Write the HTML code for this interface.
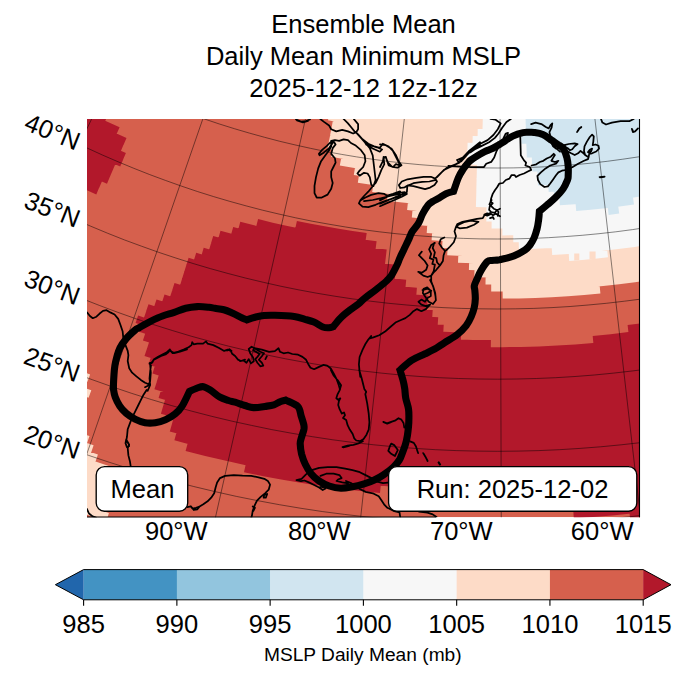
<!DOCTYPE html>
<html><head><meta charset="utf-8"><title>Ensemble Mean MSLP</title>
<style>html,body{margin:0;padding:0;background:#fff;overflow:hidden;font-family:"Liberation Sans",sans-serif}</style></head>
<body>
<svg width="688" height="674" viewBox="0 0 688 674" style="display:block">
<rect width="688" height="674" fill="#fff"/>
<defs><clipPath id="m"><rect x="87" y="119" width="553" height="398.2"/></clipPath></defs>
<g clip-path="url(#m)">
<rect x="87" y="119" width="553" height="398.2" fill="#d6604d"/>
<path d="M629.5 513.1 L650.4 510.7 L651.4 518.7 L630.4 521.1ZM573.3 510.4 L592.4 509 L611.4 507.4 L630.5 505.5 L649.5 503.3 L650.5 511.4 L631.4 513.6 L612.2 515.5 L593 517.1 L573.8 518.4ZM572.8 503 L591.8 501.7 L610.8 500.1 L629.7 498.2 L648.6 496 L649.6 504.1 L630.6 506.3 L611.5 508.2 L592.4 509.8 L573.3 511.1ZM517.4 497.8 L536.1 497.4 L554.7 496.6 L573.4 495.6 L592 494.3 L610.6 492.8 L629.2 490.9 L647.7 488.8 L648.7 496.8 L630 498.9 L611.3 500.8 L592.6 502.4 L573.9 503.7 L555.1 504.7 L536.3 505.4 L517.5 505.9ZM245.7 464.4 L264.8 468.3 L284 471.9 L303.3 475.1 L322.6 478.1 L341.9 480.7 L361.3 483 L380.8 485.1 L380 493.1 L360.4 491 L340.9 488.7 L321.4 486 L302 483.1 L282.6 479.8 L263.3 476.2 L244 472.3ZM435.3 489.1 L454.5 489.9 L473.8 490.4 L493.1 490.6 L512.3 490.5 L531.6 490.2 L550.8 489.5 L570.1 488.5 L589.3 487.2 L608.5 485.6 L627.7 483.7 L646.8 481.5 L647.8 489.5 L628.5 491.7 L609.2 493.6 L589.9 495.2 L570.6 496.5 L551.2 497.5 L531.8 498.2 L512.4 498.6 L493 498.7 L473.6 498.5 L454.3 497.9 L434.9 497.1ZM187.7 443.2 L207.1 448.1 L226.7 452.8 L246.3 457.1 L266 461.1 L285.8 464.7 L305.6 468.1 L325.4 471.1 L345.3 473.8 L365.3 476.1 L385.3 478.1 L405.3 479.8 L425.3 481.2 L445.4 482.2 L465.5 482.9 L485.6 483.3 L505.7 483.3 L525.7 483 L545.8 482.4 L565.9 481.4 L585.9 480.1 L606 478.5 L626 476.5 L645.9 474.2 L646.9 482.2 L626.8 484.5 L606.7 486.5 L586.5 488.1 L566.3 489.4 L546.1 490.4 L525.9 491 L505.7 491.3 L485.5 491.3 L465.3 490.9 L445.1 490.2 L424.9 489.2 L404.7 487.8 L384.5 486.1 L364.4 484.1 L344.3 481.7 L324.3 479 L304.3 476 L284.4 472.6 L264.5 469 L244.7 464.9 L224.9 460.6 L205.2 455.9 L185.6 450.9ZM176.5 432.6 L195.5 437.7 L214.6 442.5 L233.8 446.9 L253.1 451.1 L272.4 454.9 L291.8 458.4 L311.2 461.6 L330.7 464.5 L350.3 467 L369.8 469.3 L389.4 471.2 L409.1 472.8 L428.7 474.1 L448.4 475.1 L468.1 475.7 L487.8 476 L507.5 476 L527.2 475.7 L546.9 475 L566.6 474.1 L586.2 472.8 L605.8 471.2 L625.5 469.3 L645 467 L646 475 L626.3 477.2 L606.6 479.2 L586.8 480.8 L567 482.1 L547.2 483 L527.4 483.7 L507.6 484 L487.7 484 L467.9 483.7 L448.1 483.1 L428.3 482.1 L408.5 480.8 L388.7 479.2 L369 477.2 L349.3 475 L329.6 472.4 L310 469.5 L290.4 466.3 L270.9 462.8 L251.5 458.9 L232.1 454.7 L212.8 450.2 L193.5 445.4 L174.4 440.3ZM172 423.8 L191.4 429.1 L210.9 434.1 L230.5 438.7 L250.2 443 L269.9 447 L289.7 450.7 L309.6 454 L329.5 457 L349.5 459.6 L369.5 461.9 L389.5 463.9 L409.6 465.6 L429.7 466.9 L449.8 467.8 L469.9 468.5 L490.1 468.8 L510.2 468.7 L530.4 468.3 L550.5 467.6 L570.6 466.6 L590.7 465.2 L610.8 463.4 L630.8 461.4 L650.8 459 L651.8 466.9 L631.7 469.3 L611.5 471.4 L591.3 473.1 L571.1 474.5 L550.8 475.6 L530.6 476.3 L510.3 476.7 L490 476.7 L469.8 476.4 L449.5 475.8 L429.2 474.8 L409 473.5 L388.8 471.9 L368.6 469.9 L348.5 467.5 L328.4 464.9 L308.3 461.9 L288.3 458.5 L268.4 454.9 L248.5 450.8 L228.7 446.5 L209 441.8 L189.3 436.8 L169.8 431.5ZM173.9 416.8 L193.2 422.1 L212.6 427 L232.1 431.6 L251.7 435.9 L271.3 439.9 L291 443.5 L310.7 446.8 L330.5 449.8 L350.4 452.4 L370.3 454.7 L390.2 456.7 L410.1 458.3 L430.1 459.6 L450.1 460.6 L470.1 461.2 L490.1 461.5 L510.2 461.5 L530.2 461.1 L550.2 460.4 L570.2 459.3 L590.1 457.9 L610.1 456.2 L630 454.1 L649.9 451.8 L650.9 459.7 L630.9 462.1 L610.8 464.1 L590.8 465.9 L570.7 467.3 L550.5 468.3 L530.4 469 L510.2 469.4 L490.1 469.5 L469.9 469.2 L449.8 468.5 L429.7 467.6 L409.5 466.3 L389.5 464.6 L369.4 462.6 L349.4 460.3 L329.4 457.7 L309.5 454.7 L289.6 451.4 L269.8 447.7 L250 443.7 L230.3 439.4 L210.7 434.8 L191.2 429.8 L171.8 424.5ZM163.1 406.2 L182 411.6 L201 416.6 L220 421.4 L239.2 425.8 L258.4 429.9 L277.6 433.7 L296.9 437.2 L316.3 440.4 L335.7 443.2 L355.2 445.7 L374.7 447.9 L394.3 449.8 L413.8 451.3 L433.4 452.6 L453 453.5 L472.7 454 L492.3 454.3 L511.9 454.2 L531.6 453.8 L551.2 453.1 L570.8 452 L590.4 450.6 L609.9 448.9 L629.5 446.9 L648.9 444.6 L650 452.5 L630.3 454.8 L610.7 456.9 L591 458.6 L571.3 460 L551.5 461 L531.8 461.7 L512 462.1 L492.3 462.2 L472.5 462 L452.7 461.4 L433 460.5 L413.3 459.3 L393.6 457.7 L373.9 455.8 L354.3 453.6 L334.7 451.1 L315.1 448.2 L295.6 445 L276.1 441.5 L256.8 437.7 L237.4 433.6 L218.2 429.1 L199 424.3 L179.9 419.2 L160.9 413.8ZM165.2 399.3 L183.9 404.6 L202.8 409.6 L221.7 414.4 L240.7 418.8 L259.8 422.9 L279 426.6 L298.2 430.1 L317.4 433.2 L336.7 436 L356.1 438.5 L375.5 440.7 L394.9 442.6 L414.3 444.1 L433.8 445.3 L453.3 446.2 L472.8 446.8 L492.3 447 L511.8 447 L531.4 446.6 L550.9 445.9 L570.3 444.8 L589.8 443.4 L609.2 441.8 L628.7 439.7 L648 437.4 L649 445.3 L629.5 447.6 L610 449.7 L590.4 451.4 L570.8 452.7 L551.2 453.8 L531.6 454.5 L511.9 454.9 L492.3 455 L472.7 454.7 L453 454.2 L433.4 453.3 L413.8 452 L394.2 450.5 L374.6 448.6 L355.1 446.4 L335.6 443.9 L316.2 441.1 L296.8 437.9 L277.5 434.4 L258.2 430.6 L239 426.5 L219.9 422.1 L200.8 417.3 L181.8 412.3 L162.9 406.9ZM160.9 390.5 L179.8 396 L198.8 401.1 L217.8 406 L236.9 410.5 L256.1 414.7 L275.4 418.6 L294.7 422.2 L314.1 425.4 L333.6 428.3 L353 430.9 L372.6 433.2 L392.1 435.1 L411.7 436.7 L431.3 438 L451 438.9 L470.6 439.5 L490.3 439.8 L509.9 439.8 L529.6 439.4 L549.2 438.7 L568.8 437.7 L588.5 436.3 L608 434.6 L627.6 432.6 L647.1 430.3 L648.1 438.1 L628.5 440.5 L608.8 442.5 L589.1 444.2 L569.3 445.6 L549.6 446.6 L529.8 447.3 L510 447.7 L490.2 447.7 L470.4 447.5 L450.7 446.8 L430.9 445.9 L411.1 444.6 L391.4 443 L371.7 441 L352.1 438.8 L332.4 436.2 L312.9 433.2 L293.4 430 L273.9 426.4 L254.5 422.5 L235.2 418.2 L215.9 413.7 L196.7 408.8 L177.6 403.6 L158.6 398.1ZM156.8 381.7 L175 387.1 L193.3 392.2 L211.7 397.1 L230.2 401.6 L248.8 405.8 L267.4 409.7 L286.1 413.3 L304.9 416.6 L323.7 419.6 L342.5 422.3 L361.4 424.7 L380.3 426.7 L399.3 428.5 L418.2 430 L437.2 431.1 L456.3 431.9 L475.3 432.4 L494.3 432.7 L513.4 432.5 L532.4 432.1 L551.4 431.4 L570.4 430.4 L589.4 429 L608.4 427.4 L627.3 425.4 L646.2 423.1 L647.2 431 L628.2 433.3 L609.1 435.2 L590 436.9 L570.9 438.3 L551.8 439.3 L532.6 440 L513.5 440.5 L494.3 440.6 L475.1 440.3 L456 439.8 L436.8 439 L417.7 437.8 L398.6 436.4 L379.5 434.6 L360.5 432.5 L341.5 430.1 L322.5 427.4 L303.6 424.4 L284.7 421.1 L265.9 417.5 L247.1 413.5 L228.4 409.3 L209.8 404.7 L191.3 399.9 L172.8 394.7 L154.4 389.3ZM158.9 374.8 L177 380.2 L195.2 385.3 L213.5 390.1 L231.9 394.6 L250.3 398.8 L268.8 402.7 L287.4 406.2 L306.1 409.5 L324.7 412.5 L343.5 415.2 L362.2 417.5 L381 419.6 L399.9 421.3 L418.7 422.8 L437.6 423.9 L456.5 424.7 L475.4 425.3 L494.3 425.5 L513.3 425.4 L532.2 425 L551.1 424.2 L570 423.2 L588.8 421.9 L607.7 420.2 L626.5 418.3 L645.3 416 L646.3 423.8 L627.4 426.1 L608.4 428.1 L589.5 429.7 L570.5 431.1 L551.4 432.1 L532.4 432.8 L513.4 433.3 L494.3 433.4 L475.3 433.2 L456.2 432.6 L437.2 431.8 L418.2 430.7 L399.2 429.2 L380.2 427.4 L361.3 425.4 L342.4 423 L323.6 420.3 L304.7 417.3 L286 414 L267.3 410.4 L248.6 406.5 L230.1 402.3 L211.6 397.7 L193.2 392.9 L174.8 387.8 L156.5 382.4ZM154.8 366.1 L173 371.6 L191.4 376.8 L209.8 381.7 L228.2 386.3 L246.8 390.6 L265.4 394.6 L284.1 398.3 L302.8 401.7 L321.6 404.8 L340.5 407.5 L359.4 410 L378.3 412.1 L397.3 413.9 L416.3 415.4 L435.3 416.6 L454.3 417.5 L473.3 418 L492.4 418.3 L511.4 418.2 L530.5 417.8 L549.5 417.1 L568.5 416.1 L587.5 414.8 L606.5 413.1 L625.4 411.2 L644.4 408.9 L645.4 416.7 L626.3 419 L607.2 421 L588.1 422.6 L569 424 L549.9 425 L530.7 425.7 L511.5 426.1 L492.3 426.2 L473.2 425.9 L454 425.4 L434.8 424.5 L415.7 423.3 L396.6 421.8 L377.5 419.9 L358.4 417.8 L339.4 415.3 L320.4 412.6 L301.5 409.5 L282.6 406.1 L263.8 402.4 L245.1 398.3 L226.4 394 L207.8 389.4 L189.3 384.4 L170.8 379.2 L152.5 373.6ZM150.8 357.3 L168.7 362.8 L186.7 368.1 L204.7 373 L222.8 377.7 L241 382 L259.3 386 L277.6 389.8 L296 393.2 L314.4 396.4 L332.9 399.2 L351.4 401.8 L370 404 L388.6 405.9 L407.2 407.6 L425.9 408.9 L444.5 409.9 L463.2 410.6 L481.9 411 L500.6 411.1 L519.3 410.9 L538 410.4 L556.7 409.6 L575.4 408.5 L594 407.1 L612.6 405.3 L631.2 403.3 L649.8 401 L650.8 408.8 L632.1 411.1 L613.4 413.2 L594.7 414.9 L575.9 416.3 L557.1 417.5 L538.3 418.3 L519.5 418.8 L500.6 419 L481.8 418.9 L463 418.5 L444.2 417.8 L425.4 416.7 L406.6 415.4 L387.8 413.8 L369.1 411.8 L350.4 409.6 L331.8 407 L313.1 404.1 L294.6 401 L276.1 397.5 L257.6 393.7 L239.2 389.7 L220.9 385.3 L202.7 380.6 L184.5 375.6 L166.5 370.4 L148.5 364.8ZM147 348.6 L164.9 354.2 L183 359.6 L201.1 364.6 L219.3 369.4 L237.6 373.9 L255.9 378 L274.3 381.9 L292.8 385.4 L311.4 388.6 L330 391.6 L348.6 394.2 L367.3 396.5 L386 398.5 L404.7 400.2 L423.5 401.6 L442.3 402.7 L461.1 403.4 L479.9 403.9 L498.7 404 L517.5 403.8 L536.4 403.3 L555.2 402.5 L573.9 401.4 L592.7 400 L611.4 398.3 L630.2 396.2 L648.8 393.9 L649.9 401.7 L631.1 404 L612.2 406.1 L593.4 407.8 L574.5 409.3 L555.6 410.4 L536.6 411.2 L517.7 411.7 L498.7 411.9 L479.8 411.7 L460.8 411.3 L441.9 410.5 L423 409.4 L404.1 408 L385.2 406.3 L366.4 404.3 L347.6 402 L328.8 399.3 L310.1 396.4 L291.4 393.1 L272.8 389.6 L254.3 385.7 L235.8 381.5 L217.4 377 L199 372.2 L180.8 367.1 L162.6 361.7 L144.5 356ZM149.2 341.8 L167 347.4 L184.9 352.7 L202.9 357.8 L221 362.5 L239.2 366.9 L257.4 371 L275.8 374.9 L294.1 378.4 L312.5 381.6 L331 384.5 L349.5 387.1 L368.1 389.4 L386.7 391.4 L405.3 393.1 L424 394.5 L442.6 395.5 L461.3 396.3 L480 396.7 L498.7 396.9 L517.4 396.7 L536.1 396.2 L554.8 395.4 L573.5 394.3 L592.1 392.9 L610.7 391.2 L629.3 389.1 L647.9 386.8 L648.9 394.6 L630.2 396.9 L611.5 399 L592.8 400.7 L574 402.1 L555.2 403.2 L536.4 404 L517.6 404.5 L498.7 404.7 L479.9 404.6 L461.1 404.1 L442.3 403.4 L423.5 402.3 L404.7 400.9 L385.9 399.2 L367.2 397.2 L348.5 394.9 L329.9 392.3 L311.3 389.3 L292.7 386.1 L274.2 382.6 L255.8 378.7 L237.4 374.5 L219.1 370.1 L200.9 365.3 L182.8 360.3 L164.7 354.9 L146.8 349.2ZM145.4 333.1 L163.3 338.8 L181.3 344.3 L199.4 349.4 L217.6 354.3 L235.9 358.8 L254.2 363 L272.6 367 L291.1 370.6 L309.6 373.9 L328.2 376.9 L346.8 379.6 L365.4 381.9 L384.1 384 L402.9 385.7 L421.6 387.2 L440.4 388.3 L459.2 389.1 L478 389.6 L496.8 389.7 L515.7 389.6 L534.5 389.1 L553.3 388.4 L572.1 387.3 L590.8 385.9 L609.6 384.1 L628.3 382.1 L646.9 379.7 L648 387.5 L629.2 389.9 L610.3 391.9 L591.5 393.7 L572.6 395.1 L553.7 396.2 L534.7 397 L515.8 397.4 L496.8 397.6 L477.9 397.4 L459 396.9 L440 396.1 L421.1 395 L402.2 393.5 L383.4 391.8 L364.5 389.7 L345.7 387.3 L327 384.6 L308.3 381.6 L289.6 378.3 L271 374.6 L252.5 370.7 L234 366.4 L215.7 361.8 L197.3 357 L179.1 351.8 L161 346.3 L142.9 340.5ZM141.7 324.3 L159.1 330 L176.5 335.4 L194 340.5 L211.6 345.3 L229.3 349.9 L247.1 354.1 L264.9 358.1 L282.8 361.7 L300.7 365.1 L318.7 368.2 L336.7 371 L354.8 373.5 L372.9 375.6 L391.1 377.5 L409.3 379.1 L427.5 380.4 L445.7 381.4 L463.9 382.1 L482.2 382.5 L500.4 382.6 L518.7 382.4 L536.9 381.9 L555.1 381.1 L573.4 380 L591.6 378.7 L609.7 377 L627.9 375 L646 372.7 L647 380.4 L628.8 382.7 L610.5 384.7 L592.2 386.4 L573.9 387.8 L555.5 388.9 L537.2 389.7 L518.8 390.2 L500.4 390.4 L482.1 390.3 L463.7 389.9 L445.3 389.2 L427 388.2 L408.6 386.9 L390.3 385.3 L372 383.4 L353.8 381.2 L335.6 378.7 L317.4 375.9 L299.3 372.8 L281.2 369.4 L263.2 365.7 L245.3 361.7 L227.4 357.5 L209.6 352.9 L191.9 348 L174.3 342.9 L156.7 337.5 L139.2 331.7ZM138.1 315.6 L155.5 321.4 L173 326.9 L190.6 332.2 L208.3 337.1 L226.1 341.8 L243.9 346.1 L261.8 350.2 L279.8 353.9 L297.8 357.4 L315.9 360.5 L334 363.4 L352.2 366 L370.4 368.2 L388.7 370.2 L406.9 371.8 L425.3 373.2 L443.6 374.2 L461.9 375 L480.3 375.4 L498.6 375.5 L517 375.4 L535.3 374.9 L553.7 374.1 L572 373 L590.3 371.6 L608.6 369.9 L626.8 368 L645 365.7 L646.1 373.4 L627.7 375.7 L609.4 377.7 L590.9 379.4 L572.5 380.8 L554.1 381.9 L535.6 382.7 L517.1 383.2 L498.6 383.3 L480.1 383.2 L461.7 382.8 L443.2 382 L424.7 381 L406.3 379.6 L387.9 377.9 L369.5 376 L351.2 373.7 L332.9 371.1 L314.6 368.2 L296.4 365.1 L278.2 361.6 L260.2 357.8 L242.1 353.7 L224.2 349.3 L206.3 344.6 L188.5 339.7 L170.8 334.4 L153.1 328.8 L135.6 323ZM146.3 310.9 L163.6 316.6 L181 321.9 L198.5 327 L216.1 331.9 L233.8 336.4 L251.5 340.6 L269.3 344.5 L287.2 348.2 L305.1 351.5 L323.1 354.5 L341.2 357.3 L359.2 359.7 L377.3 361.9 L395.5 363.7 L413.7 365.2 L431.9 366.5 L450.1 367.4 L468.3 368 L486.5 368.4 L504.8 368.4 L523 368.1 L541.2 367.6 L559.5 366.7 L577.7 365.5 L595.8 364 L614 362.3 L632.1 360.2 L650.2 357.8 L651.3 365.5 L633.1 367.9 L614.8 370 L596.5 371.8 L578.2 373.3 L559.9 374.5 L541.5 375.4 L523.2 375.9 L504.8 376.2 L486.5 376.2 L468.1 375.8 L449.7 375.2 L431.4 374.3 L413.1 373 L394.8 371.5 L376.5 369.6 L358.3 367.4 L340 365 L321.9 362.2 L303.8 359.2 L285.7 355.8 L267.7 352.1 L249.8 348.2 L231.9 343.9 L214.1 339.4 L196.4 334.5 L178.8 329.4 L161.2 324 L143.8 318.3ZM148.5 304.2 L165.7 309.8 L183.1 315.2 L200.4 320.2 L217.9 325 L235.5 329.5 L253.1 333.7 L270.8 337.6 L288.6 341.2 L306.4 344.5 L324.2 347.5 L342.2 350.3 L360.1 352.7 L378.1 354.8 L396.1 356.6 L414.2 358.2 L432.3 359.4 L450.4 360.3 L468.5 361 L486.6 361.3 L504.7 361.3 L522.8 361.1 L541 360.5 L559.1 359.6 L577.1 358.4 L595.2 357 L613.2 355.2 L631.2 353.1 L649.2 350.8 L650.3 358.5 L632.2 360.9 L614.1 362.9 L595.9 364.7 L577.7 366.2 L559.5 367.4 L541.3 368.3 L523 368.8 L504.8 369.1 L486.5 369.1 L468.3 368.7 L450 368.1 L431.8 367.2 L413.6 365.9 L395.4 364.4 L377.3 362.5 L359.1 360.4 L341.1 358 L323 355.2 L305 352.2 L287.1 348.8 L269.2 345.2 L251.4 341.3 L233.6 337 L215.9 332.5 L198.3 327.7 L180.8 322.6 L163.4 317.2 L146 311.5ZM156.5 299.4 L173.5 304.8 L190.5 310 L207.6 314.9 L224.8 319.5 L242 323.8 L259.3 327.8 L276.7 331.6 L294.2 335.1 L311.7 338.3 L329.2 341.2 L346.8 343.8 L364.5 346.1 L382.1 348.1 L399.8 349.9 L417.6 351.3 L435.3 352.5 L453.1 353.4 L470.8 353.9 L488.6 354.2 L506.4 354.2 L524.2 353.9 L542 353.4 L559.7 352.5 L577.5 351.3 L595.2 349.9 L612.9 348.1 L630.6 346.1 L648.2 343.8 L649.3 351.5 L631.5 353.8 L613.7 355.9 L595.9 357.6 L578.1 359.1 L560.2 360.3 L542.3 361.1 L524.4 361.7 L506.5 362 L488.6 362 L470.7 361.7 L452.7 361.1 L434.9 360.3 L417 359.1 L399.1 357.6 L381.3 355.9 L363.5 353.8 L345.7 351.5 L328 348.8 L310.3 345.9 L292.7 342.7 L275.2 339.2 L257.6 335.4 L240.2 331.4 L222.8 327 L205.5 322.4 L188.3 317.4 L171.2 312.2 L154.1 306.8ZM164.5 294.5 L181.8 300 L199.1 305.1 L216.5 310 L234.1 314.6 L251.7 318.8 L269.3 322.8 L287 326.5 L304.8 329.9 L322.7 332.9 L340.5 335.7 L358.5 338.2 L376.4 340.4 L394.5 342.3 L412.5 343.9 L430.5 345.1 L448.6 346.1 L466.7 346.8 L484.8 347.1 L502.9 347.2 L521 346.9 L539.1 346.4 L557.2 345.6 L575.2 344.4 L593.3 342.9 L611.3 341.2 L629.3 339.1 L647.2 336.8 L648.3 344.5 L630.2 346.8 L612.1 348.9 L594 350.7 L575.8 352.1 L557.6 353.3 L539.4 354.2 L521.2 354.7 L502.9 355 L484.7 354.9 L466.5 354.5 L448.3 353.9 L430.1 352.9 L411.9 351.6 L393.7 350 L375.6 348.1 L357.5 345.9 L339.4 343.4 L321.4 340.6 L303.4 337.5 L285.5 334.1 L267.7 330.4 L249.9 326.4 L232.2 322.1 L214.5 317.5 L197 312.6 L179.5 307.4 L162.1 301.9ZM172.4 289.7 L189.6 295 L206.8 300 L224.2 304.7 L241.6 309.2 L259.1 313.3 L276.7 317.2 L294.3 320.7 L312 324 L329.7 326.9 L347.5 329.6 L365.3 332 L383.2 334 L401.1 335.8 L419 337.3 L437 338.4 L454.9 339.3 L472.9 339.9 L490.9 340.1 L490.8 347.9 L472.7 347.6 L454.6 347 L436.5 346.2 L418.5 345 L400.4 343.5 L382.4 341.7 L364.4 339.7 L346.4 337.3 L328.5 334.6 L310.6 331.6 L292.8 328.3 L275.1 324.7 L257.4 320.9 L239.8 316.7 L222.2 312.2 L204.7 307.5 L187.3 302.4 L170 297.1ZM592.7 335.9 L610.6 334.2 L628.4 332.1 L646.3 329.8 L647.3 337.5 L629.4 339.8 L611.4 341.9 L593.4 343.6ZM174.5 282.9 L190.9 288 L207.4 292.8 L223.9 297.4 L240.6 301.6 L257.3 305.6 L274 309.4 L290.8 312.8 L307.7 316 L324.6 319 L341.6 321.6 L358.6 324 L375.6 326.1 L392.7 327.9 L409.8 329.5 L426.9 330.7 L444 331.7 L461.2 332.5 L460.9 340.2 L443.6 339.5 L426.4 338.5 L409.1 337.2 L391.9 335.6 L374.7 333.8 L357.5 331.7 L340.4 329.3 L323.3 326.6 L306.3 323.7 L289.3 320.4 L272.4 317 L255.5 313.2 L238.7 309.2 L222 304.9 L205.3 300.3 L188.7 295.4 L172.2 290.3ZM627.6 325.1 L645.3 322.8 L646.4 330.5 L628.5 332.8ZM182.3 278 L199.3 283.1 L216.4 288 L233.5 292.6 L250.7 296.9 L268 300.9 L285.4 304.6 L302.8 308 L320.3 311.1 L337.8 313.9 L355.3 316.4 L372.9 318.7 L390.6 320.6 L408.3 322.3 L426 323.6 L443.7 324.7 L443.3 332.4 L425.4 331.3 L407.6 330 L389.8 328.3 L372 326.4 L354.3 324.1 L336.6 321.6 L319 318.7 L301.4 315.6 L283.8 312.1 L266.3 308.4 L248.9 304.4 L231.6 300.1 L214.3 295.5 L197.1 290.6 L180 285.4ZM184.4 271.3 L200.9 276.3 L217.5 281 L234.1 285.5 L250.8 289.6 L267.6 293.6 L284.5 297.2 L301.4 300.5 L318.3 303.6 L335.4 306.4 L352.4 308.9 L369.5 311.2 L386.6 313.1 L403.8 314.8 L421 316.2 L438.2 317.3 L437.7 325 L420.4 323.9 L403.1 322.5 L385.8 320.8 L368.6 318.9 L351.3 316.6 L334.2 314.1 L317 311.2 L299.9 308.1 L282.9 304.8 L265.9 301.1 L249 297.2 L232.2 293 L215.4 288.5 L198.7 283.7 L182.1 278.7ZM186.5 264.6 L202.5 269.4 L218.6 274 L234.8 278.4 L251 282.4 L267.3 286.3 L283.6 289.8 L300 293.1 L316.5 296.1 L333 298.9 L349.5 301.4 L366.1 303.7 L382.7 305.6 L399.4 307.3 L416 308.8 L432.7 310 L432.2 317.7 L415.4 316.5 L398.6 315 L381.9 313.3 L365.1 311.3 L348.4 309.1 L331.8 306.6 L315.1 303.8 L298.6 300.7 L282 297.4 L265.6 293.8 L249.2 289.9 L232.8 285.8 L216.5 281.5 L200.3 276.8 L184.2 271.9ZM188.6 257.8 L205.2 262.9 L222 267.7 L238.8 272.1 L255.6 276.3 L272.6 280.2 L289.6 283.9 L306.7 287.2 L323.8 290.3 L341 293 L358.2 295.5 L375.4 297.7 L392.7 299.6 L410 301.2 L427.4 302.6 L426.9 310.3 L409.4 308.9 L391.9 307.3 L374.5 305.4 L357.1 303.2 L339.8 300.7 L322.5 297.9 L305.2 294.8 L288.1 291.4 L270.9 287.8 L253.8 283.8 L236.8 279.6 L219.9 275.1 L203.1 270.3 L186.3 265.2ZM196.2 252.8 L212.3 257.6 L228.6 262.2 L244.9 266.4 L261.3 270.4 L277.7 274.2 L294.2 277.6 L310.8 280.8 L327.4 283.8 L344.1 286.4 L360.8 288.8 L377.5 290.9 L394.2 292.7 L411 294.3 L427.9 295.5 L427.3 303.2 L410.4 302 L393.5 300.4 L376.6 298.6 L359.7 296.4 L342.9 294 L326.1 291.4 L309.4 288.4 L292.7 285.2 L276.1 281.7 L259.5 278 L243 273.9 L226.6 269.6 L210.2 265.1 L193.9 260.2ZM203.7 247.8 L219.8 252.4 L235.9 256.9 L252.1 261 L268.3 264.9 L284.7 268.5 L301 271.8 L317.5 274.9 L334 277.7 L350.5 280.3 L367 282.5 L383.6 284.5 L400.3 286.2 L416.9 287.7 L416.3 295.4 L399.5 293.9 L382.8 292.2 L366.1 290.2 L349.4 287.9 L332.7 285.3 L316.1 282.5 L299.6 279.4 L283.1 276 L266.6 272.4 L250.2 268.5 L233.9 264.3 L217.7 259.9 L201.5 255.2ZM211.2 242.7 L227.1 247.2 L243.1 251.5 L259.2 255.5 L275.3 259.3 L291.5 262.8 L307.8 266 L324.1 268.9 L340.4 271.6 L356.8 274.1 L373.2 276.2 L389.7 278.1 L406.2 279.7 L405.5 287.4 L388.9 285.8 L372.3 283.9 L355.7 281.7 L339.2 279.3 L322.7 276.5 L306.3 273.6 L289.9 270.3 L273.6 266.8 L257.4 263 L241.2 259 L225.1 254.6 L209 250.1ZM213.2 235.9 L229.4 240.6 L245.8 244.9 L262.2 249 L278.7 252.8 L295.2 256.4 L311.8 259.6 L328.5 262.6 L345.2 265.3 L362 267.7 L378.7 269.8 L395.6 271.7 L394.8 279.3 L377.8 277.5 L360.9 275.3 L344 272.9 L327.2 270.2 L310.4 267.2 L293.7 263.9 L277 260.3 L260.4 256.5 L243.9 252.4 L227.4 248 L211 243.3ZM78.9 178.2 L89.1 182.8 L99.3 187.3 L96.3 194.4 L85.9 189.8 L75.6 185.2ZM220.5 230.8 L236.2 235.1 L252 239.3 L267.8 243.1 L283.7 246.7 L299.6 250.1 L315.6 253.2 L331.7 256 L347.8 258.6 L363.9 260.9 L380.1 262.9 L396.3 264.7 L395.5 272.4 L379.2 270.6 L362.9 268.5 L346.6 266.2 L330.4 263.6 L314.2 260.8 L298.1 257.6 L282 254.3 L266 250.6 L250.1 246.7 L234.2 242.6 L218.4 238.2ZM81.8 171.8 L91.9 176.4 L102.1 180.9 L99.1 187.9 L88.8 183.4 L78.6 178.8ZM233.2 227 L248.2 231.1 L263.3 234.8 L278.5 238.4 L293.7 241.7 L309 244.8 L324.3 247.6 L339.6 250.2 L355 252.6 L370.5 254.7 L385.9 256.5 L385 264.2 L369.5 262.3 L353.9 260.2 L338.4 257.8 L322.9 255.2 L307.5 252.3 L292.1 249.2 L276.8 245.9 L261.5 242.3 L246.3 238.5 L231.1 234.5ZM79.7 163.1 L94.8 170 L110 176.6 L107 183.7 L91.6 177 L76.5 170.1ZM240.3 221.7 L256.4 225.9 L272.5 229.8 L288.6 233.5 L304.9 236.8 L321.1 239.9 L337.5 242.7 L353.8 245.3 L370.3 247.6 L386.7 249.6 L385.8 257.2 L369.3 255.2 L352.7 252.9 L336.2 250.3 L319.8 247.5 L303.4 244.4 L287 241 L270.7 237.3 L254.5 233.4 L238.3 229.2ZM82.7 156.7 L97.6 163.6 L112.7 170.2 L109.7 177.2 L94.5 170.6 L79.4 163.7ZM258.1 219.1 L272.7 222.7 L287.4 226 L302.2 229.1 L317 232 L331.8 234.7 L346.7 237.1 L361.6 239.3 L376.6 241.3 L375.6 248.9 L360.6 247 L345.5 244.7 L330.5 242.3 L315.6 239.6 L300.7 236.7 L285.8 233.5 L271 230.2 L256.2 226.6ZM80.7 148.1 L92.2 153.4 L103.8 158.6 L115.5 163.7 L112.5 170.8 L100.7 165.7 L89 160.4 L77.4 155ZM296.9 220.9 L310.8 223.7 L324.7 226.3 L338.7 228.7 L352.6 230.9 L366.7 232.9 L365.6 240.6 L351.5 238.6 L337.4 236.3 L323.4 233.9 L309.3 231.3 L295.3 228.4ZM78.8 139.4 L93.5 146.3 L108.3 153 L123.2 159.4 L120.2 166.5 L105.2 160 L90.3 153.3 L75.5 146.3ZM81.9 133.1 L96.5 139.9 L111.1 146.5 L125.9 152.9 L122.9 160 L108 153.6 L93.2 146.9 L78.5 140ZM80.1 124.4 L94.5 131.3 L109.1 138 L123.7 144.3 L120.7 151.4 L105.9 145 L91.3 138.3 L76.7 131.4ZM78.5 115.8 L90.3 121.6 L102.3 127.2 L114.4 132.6 L126.5 137.9 L123.5 145 L111.2 139.7 L99.1 134.2 L87 128.5 L75 122.7ZM81.6 109.5 L94.2 115.6 L106.8 121.5 L119.6 127.3 L116.5 134.3 L103.6 128.5 L90.8 122.6 L78.1 116.4ZM94 107.8 L108.2 114.4 L105 121.4 L90.7 114.7Z" fill="#b2182b"/>
<path d="M78.8 511.2 L85.7 513.5 L83.1 521.4 L76.1 519.1ZM81.2 504 L95 508.6 L108.9 513 L106.5 521 L92.5 516.5 L78.5 511.9ZM83.6 496.9 L104.3 503.7 L101.8 511.6 L81 504.7ZM79.2 487.5 L92.8 492.1 L106.5 496.5 L104 504.4 L90.2 499.9 L76.5 495.3ZM81.6 480.4 L95.2 485 L108.8 489.4 L106.3 497.2 L92.6 492.8 L78.9 488.2ZM77.3 471 L90.8 475.6 L104.3 480.1 L101.8 487.9 L88.1 483.4 L74.6 478.8ZM79.7 464 L93.1 468.6 L106.6 473 L104.1 480.8 L90.5 476.3 L77 471.7ZM82.2 457 L95.5 461.6 L108.9 466 L106.4 473.7 L92.9 469.3 L79.5 464.7ZM78 447.7 L97.9 454.5 L95.3 462.2 L75.3 455.3ZM80.5 440.7 L93.6 445.3 L91 453 L77.8 448.4ZM83 433.8 L89.5 436.1 L86.8 443.7 L80.3 441.4ZM78.8 385.7 L91.3 390.3 L88.6 397.8 L76 393.1ZM77.7 369.8 L90.1 374.4 L87.3 381.9 L74.9 377.2ZM502.6 290.9 L518.8 290.7 L535 290.2 L551.2 289.5 L567.4 288.5 L583.5 287.3 L599.7 285.8 L600.4 293.4 L584.2 294.9 L567.9 296.2 L551.6 297.2 L535.3 297.9 L519 298.4 L502.7 298.6ZM491.2 283.8 L507.1 283.8 L523 283.5 L538.9 283 L554.8 282.2 L570.7 281.2 L586.5 279.9 L602.4 278.4 L618.2 276.7 L633.9 274.7 L649.7 272.4 L650.8 280 L635 282.3 L619.1 284.3 L603.2 286.1 L587.2 287.6 L571.2 288.9 L555.2 289.9 L539.2 290.7 L523.2 291.2 L507.2 291.5 L491.2 291.5ZM485.6 276.8 L502 276.8 L518.3 276.6 L534.7 276.2 L551 275.4 L567.4 274.4 L583.7 273.2 L600 271.6 L616.2 269.8 L632.4 267.8 L648.6 265.5 L649.8 273.1 L633.5 275.4 L617.1 277.5 L600.7 279.3 L584.3 280.8 L567.9 282.1 L551.4 283.1 L535 283.9 L518.5 284.3 L502 284.5 L485.5 284.5ZM474.5 269.6 L490.3 269.8 L506.1 269.8 L521.9 269.5 L537.6 269 L553.4 268.3 L569.2 267.3 L584.9 266 L600.6 264.5 L616.3 262.8 L632 260.8 L647.6 258.5 L648.7 266.1 L633 268.4 L617.2 270.4 L601.4 272.2 L585.6 273.7 L569.7 274.9 L553.8 276 L538 276.7 L522.1 277.2 L506.1 277.5 L490.2 277.5 L474.3 277.3ZM469.1 262.4 L485.3 262.7 L501.5 262.8 L517.7 262.6 L533.8 262.1 L550 261.4 L566.1 260.4 L582.3 259.2 L598.4 257.7 L614.5 255.9 L630.5 253.9 L646.5 251.6 L647.7 259.2 L631.5 261.5 L615.4 263.6 L599.2 265.3 L582.9 266.9 L566.7 268.1 L550.4 269.1 L534.1 269.8 L517.8 270.3 L501.5 270.5 L485.2 270.4 L468.9 270.1ZM458.3 255 L473.9 255.5 L489.6 255.8 L505.2 255.8 L520.9 255.5 L536.5 255 L552.1 254.3 L567.7 253.3 L583.3 252.1 L598.9 250.6 L614.5 248.8 L630 246.9 L645.5 244.6 L646.6 252.3 L631 254.5 L615.4 256.5 L599.7 258.2 L584 259.7 L568.3 261 L552.6 262 L536.8 262.7 L521 263.2 L505.3 263.5 L489.5 263.5 L473.7 263.2 L458 262.7ZM447.6 247.5 L463.2 248.2 L478.8 248.6 L494.4 248.8 L510 248.7 L525.6 248.4 L541.2 247.8 L556.8 247 L572.4 245.9 L587.9 244.6 L603.4 243 L618.9 241.2 L634.4 239.2 L649.9 236.9 L651.1 244.5 L635.5 246.8 L619.9 248.9 L604.3 250.7 L588.6 252.3 L573 253.6 L557.3 254.7 L541.6 255.5 L525.8 256.1 L510.1 256.4 L494.4 256.5 L478.6 256.3 L462.9 255.9 L447.2 255.2ZM442.5 240.2 L458.4 241 L474.3 241.5 L490.2 241.7 L506.1 241.7 L522.1 241.5 L538 240.9 L553.9 240.1 L569.7 239.1 L585.6 237.8 L601.4 236.2 L617.2 234.4 L633 232.3 L648.8 229.9 L650 237.6 L634.1 239.9 L618.2 242 L602.3 243.9 L586.3 245.4 L570.3 246.8 L554.3 247.8 L538.3 248.6 L522.3 249.2 L506.2 249.4 L490.2 249.4 L474.1 249.2 L458.1 248.7 L442.1 247.9ZM432.1 232.5 L447.5 233.5 L463 234.1 L478.4 234.6 L493.8 234.7 L509.3 234.7 L524.7 234.4 L540.2 233.8 L555.6 233 L571 232 L586.4 230.7 L601.8 229.1 L617.1 227.3 L632.4 225.3 L647.7 223 L648.9 230.6 L633.5 232.9 L618 235 L602.6 236.8 L587.1 238.3 L571.6 239.6 L556.1 240.7 L540.5 241.5 L524.9 242.1 L509.4 242.4 L493.8 242.5 L478.3 242.3 L462.7 241.8 L447.1 241.2 L431.6 240.2ZM427.2 225.2 L442.9 226.2 L458.6 227 L474.3 227.5 L490 227.7 L505.8 227.7 L521.5 227.4 L537.2 226.9 L552.9 226.1 L568.6 225.1 L584.2 223.8 L599.9 222.3 L615.5 220.5 L631 218.4 L646.6 216.1 L647.8 223.7 L632.1 226 L616.4 228.1 L600.7 229.9 L584.9 231.5 L569.1 232.8 L553.3 233.8 L537.5 234.6 L521.7 235.1 L505.8 235.4 L490 235.4 L474.1 235.2 L458.3 234.7 L442.5 233.9 L426.7 232.9ZM417.1 217.3 L432.4 218.5 L447.6 219.4 L462.9 220.1 L478.1 220.5 L493.4 220.7 L508.7 220.7 L523.9 220.4 L539.2 219.8 L554.4 219 L569.7 218 L584.9 216.7 L600.1 215.2 L615.3 213.4 L630.4 211.4 L645.5 209.2 L646.7 216.8 L631.5 219 L616.2 221.1 L600.9 222.8 L585.6 224.4 L570.3 225.7 L554.9 226.7 L539.5 227.5 L524.1 228.1 L508.8 228.4 L493.4 228.4 L478 228.2 L462.6 227.8 L447.2 227.1 L431.8 226.2 L416.5 225ZM412.5 209.9 L428.3 211.2 L444.1 212.2 L459.9 213 L475.8 213.5 L491.7 213.7 L507.5 213.7 L523.4 213.4 L539.2 212.8 L555.1 212 L570.9 210.9 L586.7 209.5 L602.5 207.9 L618.2 206 L634 203.8 L649.6 201.4 L650.9 209 L635.1 211.4 L619.2 213.6 L603.3 215.5 L587.4 217.2 L571.5 218.5 L555.5 219.6 L539.6 220.5 L523.6 221.1 L507.6 221.4 L491.6 221.4 L475.6 221.2 L459.6 220.7 L443.7 219.9 L427.7 218.9 L411.8 217.6ZM407.9 202.4 L422.9 203.7 L438 204.8 L453 205.6 L468.1 206.2 L483.2 206.6 L498.3 206.7 L513.4 206.6 L528.4 206.2 L543.5 205.6 L558.6 204.7 L573.6 203.6 L588.7 202.3 L603.7 200.7 L618.6 198.8 L633.6 196.8 L648.5 194.5 L649.7 202.1 L634.7 204.4 L619.6 206.5 L604.5 208.3 L589.4 209.9 L574.3 211.3 L559.1 212.4 L543.9 213.3 L528.7 213.9 L513.5 214.3 L498.3 214.4 L483.1 214.3 L467.9 213.9 L452.7 213.3 L437.5 212.5 L422.3 211.4 L407.1 210.1ZM387.8 193.2 L403.1 194.9 L418.3 196.3 L433.6 197.5 L448.9 198.4 L464.2 199.1 L479.5 199.5 L494.8 199.7 L510.1 199.6 L525.5 199.2 L540.8 198.7 L556.1 197.8 L571.3 196.7 L586.6 195.4 L601.8 193.8 L617 192 L632.2 189.9 L647.4 187.5 L648.6 195.1 L633.3 197.5 L618 199.6 L602.7 201.5 L587.3 203.1 L572 204.4 L556.5 205.5 L541.1 206.4 L525.7 207 L510.2 207.3 L494.8 207.4 L479.3 207.2 L463.9 206.8 L448.5 206.1 L433.1 205.2 L417.6 204 L402.3 202.5 L386.9 200.8ZM373.3 184.3 L388.4 186.2 L403.5 187.8 L418.6 189.3 L433.8 190.4 L449 191.4 L464.2 192 L479.4 192.5 L494.7 192.6 L509.9 192.6 L525.1 192.2 L540.3 191.6 L555.5 190.8 L570.7 189.7 L585.9 188.4 L601 186.8 L616.1 185 L631.2 182.9 L646.2 180.6 L647.5 188.2 L632.3 190.6 L617.1 192.7 L601.9 194.5 L586.6 196.1 L571.3 197.4 L556 198.5 L540.7 199.4 L525.3 199.9 L510 200.3 L494.6 200.4 L479.3 200.2 L463.9 199.8 L448.6 199.1 L433.3 198.1 L418 197 L402.7 195.5 L387.5 193.8 L372.2 191.9ZM359 175.1 L373.9 177.2 L388.9 179.2 L404 180.8 L419 182.2 L434.1 183.4 L449.2 184.3 L464.3 185 L479.4 185.4 L494.5 185.6 L509.7 185.5 L524.8 185.2 L539.9 184.6 L555 183.8 L570.1 182.7 L585.1 181.4 L600.2 179.8 L615.2 178 L630.2 176 L645.1 173.7 L646.3 181.3 L631.3 183.6 L616.2 185.7 L601 187.5 L585.9 189.1 L570.7 190.4 L555.5 191.5 L540.2 192.3 L525 192.9 L509.8 193.2 L494.5 193.3 L479.3 193.2 L464 192.7 L448.8 192 L433.6 191.1 L418.4 189.9 L403.2 188.5 L388 186.8 L372.9 184.9 L357.8 182.7ZM355 167.4 L369.6 169.5 L384.2 171.5 L398.9 173.2 L413.6 174.7 L428.3 175.9 L443 176.9 L457.8 177.7 L472.5 178.2 L487.3 178.5 L502.1 178.6 L516.8 178.4 L531.6 177.9 L546.3 177.3 L561.1 176.3 L575.8 175.2 L590.5 173.8 L605.2 172.2 L619.8 170.3 L634.4 168.2 L649 165.9 L650.3 173.5 L635.6 175.9 L620.8 178 L606.1 179.9 L591.3 181.5 L576.5 182.9 L561.6 184.1 L546.7 185 L531.9 185.7 L517 186.1 L502.1 186.3 L487.2 186.2 L472.3 186 L457.4 185.4 L442.6 184.7 L427.7 183.6 L412.9 182.4 L398.1 180.9 L383.3 179.2 L368.5 177.2 L353.8 175ZM341.2 157.9 L355.6 160.3 L370.1 162.5 L384.7 164.5 L399.3 166.2 L413.9 167.6 L428.5 168.9 L443.1 169.9 L457.8 170.7 L472.4 171.2 L487.1 171.5 L501.8 171.5 L516.5 171.3 L531.1 170.9 L545.8 170.2 L560.4 169.3 L575.1 168.2 L589.7 166.8 L604.3 165.2 L618.8 163.3 L633.3 161.3 L647.8 158.9 L649.1 166.6 L634.5 168.9 L619.9 171 L605.2 172.9 L590.5 174.5 L575.7 175.9 L561 177.1 L546.2 178 L531.4 178.6 L516.6 179.1 L501.8 179.3 L487 179.2 L472.2 178.9 L457.4 178.4 L442.7 177.6 L427.9 176.6 L413.1 175.4 L398.4 173.9 L383.7 172.1 L369.1 170.2 L354.4 168 L339.8 165.5ZM332.5 149.2 L347.3 151.8 L362.2 154.2 L377 156.4 L392 158.2 L406.9 159.9 L421.9 161.3 L436.9 162.4 L451.9 163.3 L466.9 164 L481.9 164.3 L497 164.5 L512 164.4 L527 164 L542.1 163.4 L557.1 162.5 L572.1 161.4 L587.1 160 L602 158.4 L616.9 156.5 L631.8 154.4 L646.7 152 L647.9 159.6 L633 162 L618 164.2 L602.9 166.1 L587.8 167.7 L572.7 169.1 L557.6 170.2 L542.5 171.1 L527.3 171.7 L512.1 172.1 L497 172.2 L481.8 172.1 L466.6 171.7 L451.5 171.1 L436.4 170.2 L421.2 169 L406.1 167.6 L391.1 165.9 L376 164 L361 161.9 L346 159.4 L331.1 156.8ZM328.9 141.3 L343.2 143.9 L357.4 146.3 L371.7 148.5 L386.1 150.4 L400.4 152.1 L414.8 153.6 L429.2 154.8 L443.7 155.8 L458.1 156.6 L472.6 157.1 L487 157.4 L501.5 157.4 L516 157.2 L530.4 156.8 L544.9 156.2 L559.3 155.3 L573.7 154.2 L588.1 152.8 L602.5 151.2 L616.9 149.4 L631.2 147.3 L645.5 145 L646.8 152.7 L632.4 155 L617.9 157.1 L603.4 158.9 L588.9 160.5 L574.4 161.9 L559.9 163 L545.3 163.9 L530.7 164.6 L516.1 165 L501.5 165.2 L486.9 165.1 L472.4 164.8 L457.8 164.3 L443.2 163.5 L428.6 162.5 L414.1 161.3 L399.6 159.8 L385.1 158.1 L370.6 156.2 L356.2 154 L341.8 151.6 L327.5 148.9ZM330.3 134.4 L344.6 137 L359 139.4 L373.4 141.6 L387.8 143.5 L402.3 145.2 L416.8 146.7 L431.3 147.9 L445.9 148.9 L460.4 149.6 L475 150.1 L489.6 150.3 L504.2 150.3 L518.7 150.1 L533.3 149.6 L547.9 148.9 L562.4 148 L576.9 146.8 L591.4 145.3 L605.9 143.7 L620.4 141.8 L634.8 139.6 L649.2 137.2 L650.5 144.9 L636 147.3 L621.5 149.4 L606.9 151.4 L592.3 153.1 L577.6 154.5 L563 155.7 L548.3 156.7 L533.6 157.4 L518.9 157.9 L504.2 158.1 L489.5 158.1 L474.8 157.8 L460.1 157.3 L445.4 156.6 L430.8 155.6 L416.1 154.4 L401.5 152.9 L386.9 151.2 L372.3 149.3 L357.8 147.1 L343.3 144.7 L328.8 142ZM331.6 127.4 L345.8 130.1 L360.1 132.4 L374.4 134.6 L388.7 136.5 L403.1 138.2 L417.5 139.6 L431.9 140.8 L446.3 141.8 L460.7 142.5 L475.2 143 L489.7 143.3 L504.1 143.3 L518.6 143 L533 142.6 L547.5 141.9 L561.9 140.9 L576.3 139.7 L590.7 138.3 L605.1 136.7 L619.4 134.8 L633.7 132.6 L648 130.3 L649.3 137.9 L634.9 140.3 L620.5 142.5 L606 144.4 L591.5 146 L577 147.5 L562.5 148.7 L547.9 149.6 L533.3 150.3 L518.8 150.8 L504.2 151 L489.6 151 L475 150.8 L460.4 150.3 L445.8 149.5 L431.3 148.6 L416.8 147.4 L402.2 145.9 L387.8 144.2 L373.3 142.3 L358.9 140.1 L344.5 137.7 L330.1 135.1ZM332.9 120.5 L347.1 123.1 L361.2 125.5 L375.4 127.6 L389.6 129.5 L403.8 131.2 L418.1 132.6 L432.4 133.8 L446.7 134.7 L461 135.5 L475.4 135.9 L489.7 136.2 L504.1 136.2 L518.4 136 L532.7 135.5 L547.1 134.8 L561.4 133.9 L575.7 132.7 L589.9 131.3 L604.2 129.6 L618.4 127.8 L632.6 125.6 L646.7 123.3 L648.1 131 L633.8 133.3 L619.5 135.5 L605.1 137.4 L590.8 139 L576.4 140.4 L561.9 141.6 L547.5 142.6 L533 143.3 L518.6 143.7 L504.1 144 L489.6 144 L475.2 143.7 L460.7 143.2 L446.3 142.5 L431.8 141.5 L417.4 140.3 L403 138.9 L388.6 137.2 L374.3 135.3 L360 133.1 L345.7 130.7 L331.5 128.1ZM329.6 112.6 L343.8 115.3 L358 117.8 L372.3 120 L386.6 122 L400.9 123.7 L415.3 125.2 L429.7 126.5 L444.1 127.5 L458.5 128.2 L472.9 128.8 L487.4 129.1 L501.8 129.1 L516.3 128.9 L530.7 128.5 L545.1 127.8 L559.5 126.9 L573.9 125.7 L588.3 124.3 L602.7 122.7 L617 120.8 L631.3 118.7 L645.5 116.3 L646.9 124 L632.5 126.4 L618.1 128.5 L603.6 130.4 L589.1 132.1 L574.6 133.5 L560.1 134.7 L545.6 135.6 L531 136.3 L516.4 136.7 L501.9 136.9 L487.3 136.9 L472.7 136.6 L458.1 136 L443.6 135.2 L429.1 134.2 L414.5 132.9 L400 131.4 L385.6 129.7 L371.1 127.7 L356.7 125.4 L342.4 123 L328 120.2ZM340.3 107.4 L354.2 109.9 L368.1 112.2 L382.1 114.2 L396.1 116 L410.1 117.6 L424.2 118.9 L438.2 120 L452.3 120.8 L466.4 121.5 L480.5 121.9 L494.6 122 L508.7 122 L522.8 121.7 L536.9 121.1 L551 120.4 L565.1 119.4 L579.1 118.1 L593.2 116.7 L607.2 115 L621.2 113 L635.1 110.9 L649 108.5 L650.4 116.2 L636.4 118.6 L622.3 120.7 L608.2 122.7 L594 124.4 L579.9 125.9 L565.7 127.1 L551.5 128.1 L537.3 128.9 L523.1 129.4 L508.8 129.8 L494.6 129.8 L480.4 129.7 L466.1 129.3 L451.9 128.6 L437.7 127.8 L423.5 126.6 L409.3 125.3 L395.2 123.7 L381.1 121.9 L367 119.9 L352.9 117.6 L338.9 115.1ZM383.7 107.2 L397.8 109 L411.9 110.6 L426.1 111.9 L440.2 113 L454.4 113.8 L468.6 114.4 L482.8 114.8 L497 114.9 L511.2 114.8 L525.4 114.5 L539.6 113.9 L553.8 113.1 L568 112 L582.1 110.7 L596.2 109.2 L610.3 107.4 L611.4 115.1 L597.1 116.9 L582.9 118.5 L568.6 119.8 L554.3 120.8 L540 121.7 L525.7 122.3 L511.3 122.6 L497 122.7 L482.7 122.6 L468.3 122.2 L454 121.6 L439.7 120.8 L425.4 119.7 L411.1 118.4 L396.9 116.8 L382.7 115ZM464.2 107.1 L477.3 107.6 L490.4 107.8 L503.6 107.8 L516.7 107.6 L529.9 107.2 L530.2 115 L516.9 115.4 L503.6 115.6 L490.4 115.6 L477.1 115.4 L463.8 115Z" fill="#fddbc7"/>
<path d="M568.7 253.2 L581.5 252.2 L594.3 251 L607.2 249.7 L608 257.3 L595.1 258.7 L582.2 259.9 L569.2 260.9ZM551.7 247.3 L568.2 246.2 L584.6 244.9 L600.9 243.3 L617.3 241.4 L633.6 239.3 L649.9 236.9 L651.1 244.5 L634.7 246.9 L618.2 249.1 L601.7 251 L585.2 252.6 L568.7 253.9 L552.2 255ZM518.7 241.5 L535 241 L551.4 240.3 L567.7 239.2 L583.9 237.9 L600.2 236.3 L616.4 234.5 L632.6 232.4 L648.8 229.9 L650 237.6 L633.7 240 L617.4 242.1 L601 244 L584.6 245.6 L568.2 246.9 L551.8 248 L535.3 248.7 L518.9 249.2ZM513.2 234.6 L528.2 234.3 L543.2 233.7 L558.2 232.9 L573.1 231.8 L588.1 230.5 L603 229 L617.9 227.2 L632.8 225.2 L647.7 223 L648.9 230.6 L633.9 232.9 L618.9 234.9 L603.9 236.6 L588.8 238.2 L573.7 239.5 L558.6 240.5 L543.5 241.4 L528.4 242 L513.3 242.3ZM502.3 227.7 L518.4 227.5 L534.5 227 L550.6 226.3 L566.6 225.2 L582.7 224 L598.7 222.4 L614.7 220.6 L630.7 218.5 L646.6 216.1 L647.8 223.7 L631.7 226.1 L615.6 228.2 L599.5 230.1 L583.4 231.6 L567.2 232.9 L551 234 L534.8 234.7 L518.6 235.2 L502.3 235.4ZM491.6 220.7 L507.1 220.7 L522.5 220.4 L538 219.9 L553.4 219.1 L568.8 218.1 L584.2 216.8 L599.6 215.2 L614.9 213.5 L630.2 211.4 L645.5 209.2 L646.7 216.8 L631.3 219.1 L615.9 221.1 L600.4 222.9 L584.9 224.4 L569.4 225.7 L553.8 226.8 L538.3 227.6 L522.7 228.1 L507.1 228.4 L491.6 228.4ZM486.4 213.6 L501.3 213.7 L516.2 213.5 L531.1 213.1 L546 212.5 L560.8 211.6 L575.7 210.5 L590.5 209.1 L605.4 207.5 L620.1 205.7 L634.9 203.7 L649.6 201.4 L650.9 209 L636 211.3 L621.1 213.4 L606.2 215.2 L591.3 216.8 L576.3 218.2 L561.4 219.3 L546.4 220.2 L531.3 220.8 L516.3 221.2 L501.3 221.4 L486.3 221.4ZM486.5 206.6 L501.2 206.7 L516 206.5 L530.8 206.1 L545.6 205.5 L560.4 204.6 L575.1 203.5 L589.8 202.1 L604.6 200.6 L619.2 198.8 L633.9 196.7 L648.5 194.5 L649.7 202.1 L635 204.4 L620.2 206.4 L605.4 208.2 L590.6 209.8 L575.8 211.2 L560.9 212.3 L546 213.2 L531.1 213.8 L516.2 214.2 L501.3 214.4 L486.4 214.3ZM476.1 199.4 L491.7 199.6 L507.4 199.6 L523 199.3 L538.6 198.8 L554.2 197.9 L569.8 196.9 L585.4 195.5 L600.9 193.9 L616.4 192 L631.9 189.9 L647.4 187.5 L648.6 195.1 L633 197.6 L617.4 199.7 L601.8 201.6 L586.1 203.2 L570.4 204.5 L554.7 205.6 L539 206.5 L523.2 207 L507.5 207.3 L491.7 207.4 L475.9 207.1ZM476.3 192.4 L491.8 192.6 L507.3 192.6 L522.8 192.3 L538.3 191.7 L553.8 190.9 L569.3 189.8 L584.7 188.5 L600.1 186.9 L615.5 185.1 L630.9 183 L646.2 180.6 L647.5 188.2 L632 190.6 L616.5 192.7 L601 194.6 L585.4 196.2 L569.9 197.5 L554.3 198.6 L538.6 199.4 L523 200 L507.4 200.3 L491.7 200.3 L476.1 200.1ZM476.4 185.4 L491.8 185.6 L507.2 185.6 L522.6 185.3 L538 184.7 L553.4 183.9 L568.7 182.8 L584.1 181.5 L599.4 179.9 L614.6 178.1 L629.9 176 L645.1 173.7 L646.3 181.3 L631 183.6 L615.6 185.8 L600.2 187.6 L584.8 189.2 L569.3 190.5 L553.8 191.6 L538.3 192.4 L522.8 193 L507.3 193.3 L491.8 193.3 L476.3 193.1ZM476.6 178.3 L491 178.5 L505.5 178.5 L519.9 178.3 L534.3 177.8 L548.7 177.1 L563.1 176.2 L577.5 175.1 L591.8 173.7 L606.2 172.1 L620.5 170.2 L634.8 168.2 L649 165.9 L650.3 173.5 L635.9 175.8 L621.5 177.9 L607.1 179.7 L592.6 181.4 L578.2 182.8 L563.7 183.9 L549.1 184.8 L534.6 185.6 L520.1 186 L505.5 186.3 L491 186.3 L476.4 186.1ZM476.8 171.3 L491.1 171.5 L505.4 171.5 L519.7 171.3 L534 170.8 L548.3 170.1 L562.6 169.2 L576.9 168 L591.1 166.7 L605.3 165.1 L619.5 163.3 L633.7 161.2 L647.8 158.9 L649.1 166.6 L634.9 168.9 L620.6 170.9 L606.3 172.8 L591.9 174.4 L577.5 175.7 L563.1 176.9 L548.7 177.8 L534.3 178.5 L519.9 179 L505.5 179.2 L491 179.2 L476.6 179ZM476.9 164.2 L491.1 164.5 L505.3 164.4 L519.5 164.2 L533.7 163.7 L547.9 163.1 L562.1 162.2 L576.2 161 L590.4 159.7 L604.5 158.1 L618.6 156.3 L632.6 154.2 L646.7 152 L647.9 159.6 L633.8 161.9 L619.6 163.9 L605.4 165.8 L591.2 167.4 L576.9 168.7 L562.6 169.9 L548.3 170.8 L534 171.5 L519.7 172 L505.4 172.2 L491.1 172.2 L476.8 172ZM472.1 157.1 L486.6 157.4 L501.1 157.4 L515.6 157.2 L530.1 156.8 L544.6 156.2 L559.1 155.3 L573.6 154.2 L588 152.8 L602.4 151.2 L616.8 149.4 L631.2 147.3 L645.5 145 L646.8 152.7 L632.3 155 L617.8 157.1 L603.3 158.9 L588.8 160.5 L574.2 161.9 L559.6 163 L545 163.9 L530.4 164.6 L515.8 165 L501.2 165.2 L486.5 165.1 L471.9 164.8ZM467.4 149.9 L481.4 150.2 L495.5 150.4 L509.5 150.3 L523.5 150 L537.6 149.5 L551.6 148.7 L565.6 147.7 L579.6 146.5 L593.6 145.1 L607.5 143.5 L621.4 141.6 L635.3 139.5 L649.2 137.2 L650.5 144.9 L636.5 147.2 L622.5 149.3 L608.5 151.2 L594.4 152.8 L580.3 154.3 L566.2 155.5 L552.1 156.4 L537.9 157.2 L523.8 157.7 L509.6 158 L495.5 158.1 L481.3 158 L467.1 157.6ZM467.6 142.8 L481.6 143.1 L495.5 143.3 L509.4 143.2 L523.3 142.9 L537.3 142.4 L551.2 141.6 L565.1 140.7 L578.9 139.5 L592.8 138.1 L606.6 136.5 L620.4 134.6 L634.2 132.6 L648 130.3 L649.3 137.9 L635.4 140.2 L621.5 142.3 L607.6 144.2 L593.6 145.8 L579.7 147.2 L565.7 148.4 L551.6 149.4 L537.6 150.1 L523.6 150.7 L509.5 151 L495.5 151.1 L481.4 150.9 L467.4 150.5ZM472.7 135.9 L487.3 136.2 L501.8 136.2 L516.4 136 L531 135.6 L545.5 134.9 L560 134 L574.6 132.8 L589.1 131.4 L603.5 129.7 L618 127.8 L632.4 125.7 L646.7 123.3 L648.1 131 L633.6 133.4 L619 135.5 L604.5 137.4 L589.9 139.1 L575.3 140.5 L560.6 141.7 L545.9 142.7 L531.3 143.3 L516.6 143.8 L501.9 144 L487.2 143.9 L472.5 143.6ZM477.7 128.9 L491.8 129.1 L505.8 129.1 L519.9 128.8 L533.9 128.4 L547.9 127.7 L561.9 126.7 L575.9 125.5 L589.9 124.2 L603.9 122.5 L617.8 120.7 L631.7 118.6 L645.5 116.3 L646.9 124 L632.9 126.3 L618.9 128.4 L604.8 130.3 L590.7 131.9 L576.6 133.3 L562.5 134.5 L548.4 135.4 L534.2 136.1 L520.1 136.6 L505.9 136.9 L491.7 136.9 L477.6 136.7ZM482.7 121.9 L496.6 122 L510.5 121.9 L524.5 121.6 L538.4 121.1 L552.3 120.3 L566.2 119.3 L580 118 L593.9 116.6 L607.7 114.9 L621.5 113 L635.3 110.8 L649 108.5 L650.4 116.2 L636.5 118.5 L622.6 120.7 L608.7 122.6 L594.8 124.3 L580.8 125.8 L566.8 127 L552.8 128.1 L538.7 128.8 L524.7 129.4 L510.7 129.7 L496.6 129.8 L482.5 129.7ZM482.8 114.8 L497 114.9 L511.2 114.8 L525.4 114.5 L539.6 113.9 L553.8 113.1 L568 112 L582.1 110.7 L596.2 109.2 L610.3 107.4 L611.4 115.1 L597.1 116.9 L582.9 118.5 L568.6 119.8 L554.3 120.8 L540 121.7 L525.7 122.3 L511.3 122.6 L497 122.7 L482.7 122.6ZM482.9 107.7 L494.7 107.8 L506.4 107.8 L518.1 107.6 L529.9 107.2 L530.2 115 L518.3 115.4 L506.5 115.6 L494.6 115.6 L482.8 115.5Z" fill="#f7f7f7"/>
<path d="M607.7 207.3 L618.2 206 L619.2 213.6 L608.6 214.9ZM575.6 203.4 L590 202.1 L604.3 200.6 L618.6 198.8 L632.9 196.9 L634 204.5 L619.6 206.5 L605.2 208.3 L590.7 209.8 L576.2 211.1ZM559.4 197.6 L574.1 196.5 L588.8 195.2 L603.5 193.6 L618.2 191.8 L632.8 189.8 L647.4 187.5 L648.6 195.1 L633.9 197.4 L619.2 199.5 L604.4 201.3 L589.6 202.9 L574.8 204.2 L559.9 205.3ZM553.8 190.9 L569.3 189.8 L584.7 188.5 L600.1 186.9 L615.5 185.1 L630.9 183 L646.2 180.6 L647.5 188.2 L632 190.6 L616.5 192.7 L601 194.6 L585.4 196.2 L569.9 197.5 L554.3 198.6ZM548.2 184.2 L562.1 183.3 L576 182.2 L589.9 180.9 L603.7 179.4 L617.6 177.7 L631.3 175.8 L645.1 173.7 L646.3 181.3 L632.5 183.4 L618.6 185.4 L604.6 187.1 L590.7 188.6 L576.7 189.9 L562.7 191 L548.7 191.9ZM537.7 177.7 L551.7 177 L565.6 176 L579.6 174.9 L593.5 173.5 L607.4 171.9 L621.3 170.1 L635.2 168.1 L649 165.9 L650.3 173.5 L636.3 175.7 L622.4 177.8 L608.4 179.6 L594.3 181.2 L580.3 182.6 L566.2 183.7 L552.1 184.7 L538 185.4ZM537.4 170.6 L551.2 169.9 L565.1 169 L579 167.8 L592.8 166.5 L606.6 164.9 L620.4 163.1 L634.1 161.1 L647.8 158.9 L649.1 166.6 L635.3 168.8 L621.4 170.8 L607.5 172.6 L593.6 174.2 L579.7 175.6 L565.7 176.7 L551.7 177.7 L537.7 178.4ZM532.1 163.8 L546.5 163.1 L560.8 162.2 L575.2 161.1 L589.5 159.7 L603.9 158.1 L618.2 156.3 L632.4 154.3 L646.7 152 L647.9 159.6 L633.6 161.9 L619.2 164 L604.8 165.8 L590.3 167.4 L575.9 168.8 L561.4 170 L546.9 170.9 L532.4 171.6ZM531.8 156.8 L546.1 156.1 L560.3 155.2 L574.6 154.1 L588.8 152.7 L603 151.1 L617.2 149.3 L631.4 147.3 L645.5 145 L646.8 152.7 L632.5 155 L618.3 157 L603.9 158.8 L589.6 160.4 L575.3 161.8 L560.9 162.9 L546.5 163.8 L532.1 164.5ZM526.6 149.9 L540.3 149.3 L554 148.6 L567.6 147.6 L581.3 146.4 L594.9 145 L608.5 143.4 L622.1 141.5 L635.6 139.5 L649.2 137.2 L650.5 144.9 L636.9 147.1 L623.2 149.2 L609.5 151 L595.8 152.7 L582 154.1 L568.2 155.3 L554.5 156.3 L540.7 157.1 L526.8 157.6ZM526.3 142.8 L539.9 142.3 L553.5 141.5 L567.1 140.5 L580.6 139.3 L594.1 137.9 L607.6 136.3 L621.1 134.5 L634.5 132.5 L648 130.3 L649.3 137.9 L635.8 140.2 L622.2 142.2 L608.6 144 L595 145.7 L581.3 147.1 L567.7 148.3 L554 149.3 L540.3 150 L526.6 150.6ZM521.3 135.9 L535.3 135.4 L549.3 134.7 L563.3 133.7 L577.2 132.5 L591.2 131.1 L605.1 129.5 L619 127.7 L632.9 125.6 L646.7 123.3 L648.1 131 L634.1 133.3 L620.1 135.4 L606.1 137.2 L592 138.9 L578 140.3 L563.9 141.5 L549.7 142.4 L535.6 143.2 L521.5 143.7ZM525.9 128.7 L539.2 128.1 L552.6 127.4 L565.9 126.4 L579.3 125.2 L592.6 123.9 L605.8 122.3 L619.1 120.5 L632.3 118.5 L645.5 116.3 L646.9 124 L633.5 126.2 L620.2 128.2 L606.8 130 L593.4 131.6 L580 133 L566.6 134.2 L553.1 135.1 L539.6 135.9 L526.1 136.4ZM525.6 121.6 L539.4 121 L553.2 120.2 L567 119.2 L580.7 118 L594.4 116.5 L608.1 114.8 L621.8 112.9 L635.4 110.8 L649 108.5 L650.4 116.2 L636.7 118.5 L622.9 120.7 L609.1 122.6 L595.3 124.3 L581.5 125.7 L567.6 127 L553.7 128 L539.8 128.8 L525.9 129.4ZM525.4 114.5 L539.6 113.9 L553.8 113.1 L568 112 L582.1 110.7 L596.2 109.2 L610.3 107.4 L611.4 115.1 L597.1 116.9 L582.9 118.5 L568.6 119.8 L554.3 120.8 L540 121.7 L525.7 122.3ZM525.2 107.3 L529.9 107.2 L530.2 115 L525.4 115.2Z" fill="#d1e5f0"/>
<path d="M574.2 260.5 L574.2 253.5 L579.3 253.5 L579.3 260.3Z" fill="#fddbc7"/>
<path d="M589.5 259.5 L589.5 251.5 L595.6 251.5 L595.6 259Z" fill="#fddbc7"/>
<path d="M47.5 47.4 L61.2 55.2 L75 62.7 L88.9 69.9 L103 76.9 L117.1 83.7 L131.4 90.2 L145.8 96.5 L160.4 102.5 L175 108.2 L189.7 113.7 L204.5 119 L219.4 124 L234.4 128.7 L249.4 133.1 L264.6 137.3 L279.8 141.3 L295 144.9 L310.4 148.3 L325.8 151.5 L341.2 154.3 L356.7 156.9 L372.2 159.2 L387.8 161.3 L403.4 163.1 L419.1 164.6 L434.7 165.8 L450.4 166.8 L466.1 167.5 L481.8 167.9 L497.5 168 L513.2 167.9 L528.9 167.5 L544.6 166.8 L560.3 165.8 L575.9 164.6 L591.6 163.1 L607.2 161.3 L622.8 159.2 L638.3 156.9 L653.8 154.3 L669.2 151.5 L684.6 148.3 L700 144.9 L715.2 141.3 L730.4 137.3 L745.6 133.1 L760.6 128.7 L775.6 124 L790.5 119 L805.3 113.7 L820 108.2 L834.6 102.5 L849.2 96.5 L863.6 90.2 L877.9 83.7 L892 76.9 L906.1 69.9 L920 62.7 L933.8 55.2 L947.5 47.4M12 108.9 L26.7 117.3 L41.6 125.3 L56.7 133.2 L71.8 140.7 L87.1 148 L102.6 155.1 L118.1 161.8 L133.8 168.3 L149.5 174.5 L165.4 180.4 L181.4 186.1 L197.4 191.5 L213.6 196.6 L229.9 201.4 L246.2 205.9 L262.6 210.2 L279.1 214.1 L295.6 217.8 L312.2 221.2 L328.9 224.2 L345.6 227 L362.4 229.6 L379.2 231.8 L396 233.7 L412.9 235.3 L429.8 236.6 L446.7 237.7 L463.6 238.4 L480.6 238.9 L497.5 239 L514.4 238.9 L531.4 238.4 L548.3 237.7 L565.2 236.6 L582.1 235.3 L599 233.7 L615.8 231.8 L632.6 229.6 L649.4 227 L666.1 224.2 L682.8 221.2 L699.4 217.8 L715.9 214.1 L732.4 210.2 L748.8 205.9 L765.1 201.4 L781.4 196.6 L797.6 191.5 L813.6 186.1 L829.6 180.4 L845.5 174.5 L861.2 168.3 L876.9 161.8 L892.4 155.1 L907.9 148 L923.2 140.7 L938.3 133.2 L953.4 125.3 L968.3 117.3 L983 108.9M-23 169.5 L-7.2 178.5 L8.8 187.1 L24.9 195.5 L41.2 203.6 L57.6 211.5 L74.1 219 L90.7 226.2 L107.5 233.2 L124.4 239.9 L141.5 246.2 L158.6 252.3 L175.8 258 L193.1 263.5 L210.6 268.7 L228.1 273.5 L245.7 278.1 L263.3 282.3 L281.1 286.3 L298.9 289.9 L316.7 293.2 L334.7 296.2 L352.6 298.9 L370.6 301.2 L388.7 303.3 L406.8 305 L424.9 306.5 L443 307.6 L461.2 308.4 L479.3 308.8 L497.5 309 L515.7 308.8 L533.8 308.4 L552 307.6 L570.1 306.5 L588.2 305 L606.3 303.3 L624.4 301.2 L642.4 298.9 L660.3 296.2 L678.3 293.2 L696.1 289.9 L713.9 286.3 L731.7 282.3 L749.3 278.1 L766.9 273.5 L784.4 268.7 L801.9 263.5 L819.2 258 L836.4 252.3 L853.5 246.2 L870.6 239.9 L887.5 233.2 L904.3 226.2 L920.9 219 L937.4 211.5 L953.8 203.6 L970.1 195.5 L986.2 187.1 L1002.2 178.5 L1018 169.5M-58.1 230.3 L-41.2 239.9 L-24.2 249.1 L-7 258.1 L10.4 266.7 L27.9 275.1 L45.5 283.1 L63.3 290.9 L81.2 298.3 L99.3 305.4 L117.4 312.2 L135.7 318.7 L154.1 324.8 L172.6 330.6 L191.2 336.2 L209.9 341.3 L228.7 346.2 L247.5 350.7 L266.5 354.9 L285.5 358.8 L304.5 362.3 L323.7 365.5 L342.9 368.4 L362.1 370.9 L381.3 373.1 L400.7 375 L420 376.5 L439.3 377.7 L458.7 378.5 L478.1 379 L497.5 379.2 L516.9 379 L536.3 378.5 L555.7 377.7 L575 376.5 L594.3 375 L613.7 373.1 L632.9 370.9 L652.1 368.4 L671.3 365.5 L690.5 362.3 L709.5 358.8 L728.5 354.9 L747.5 350.7 L766.3 346.2 L785.1 341.3 L803.8 336.2 L822.4 330.6 L840.9 324.8 L859.3 318.7 L877.6 312.2 L895.7 305.4 L913.8 298.3 L931.7 290.9 L949.5 283.1 L967.1 275.1 L984.6 266.7 L1002 258.1 L1019.2 249.1 L1036.2 239.9 L1053.1 230.3M-94.1 292.8 L-76.2 302.9 L-58 312.8 L-39.7 322.3 L-21.2 331.5 L-2.6 340.4 L16.2 349 L35.1 357.2 L54.2 365.1 L73.4 372.7 L92.8 379.9 L112.3 386.8 L131.8 393.4 L151.5 399.6 L171.3 405.5 L191.2 411 L211.2 416.2 L231.3 421 L251.5 425.4 L271.7 429.6 L292 433.3 L312.4 436.7 L332.8 439.8 L353.3 442.5 L373.8 444.8 L394.4 446.8 L415 448.4 L435.6 449.7 L456.2 450.6 L476.8 451.1 L497.5 451.3 L518.2 451.1 L538.8 450.6 L559.4 449.7 L580 448.4 L600.6 446.8 L621.2 444.8 L641.7 442.5 L662.2 439.8 L682.6 436.7 L703 433.3 L723.3 429.6 L743.5 425.4 L763.7 421 L783.8 416.2 L803.8 411 L823.7 405.5 L843.5 399.6 L863.2 393.4 L882.7 386.8 L902.2 379.9 L921.6 372.7 L940.8 365.1 L959.9 357.2 L978.8 349 L997.6 340.4 L1016.2 331.5 L1034.7 322.3 L1053 312.8 L1071.2 302.9 L1089.1 292.8M-130.4 355.6 L-111.3 366.3 L-92.1 376.8 L-72.6 386.9 L-53 396.7 L-33.2 406.1 L-13.3 415.2 L6.8 424 L27.1 432.4 L47.5 440.4 L68 448.1 L88.7 455.4 L109.4 462.3 L130.3 468.9 L151.4 475.2 L172.5 481 L193.7 486.5 L215 491.6 L236.4 496.4 L257.9 500.7 L279.4 504.7 L301 508.3 L322.7 511.6 L344.5 514.4 L366.2 516.9 L388 519 L409.9 520.7 L431.8 522.1 L453.7 523 L475.6 523.6 L497.5 523.8 L519.4 523.6 L541.3 523 L563.2 522.1 L585.1 520.7 L607 519 L628.8 516.9 L650.5 514.4 L672.3 511.6 L694 508.3 L715.6 504.7 L737.1 500.7 L758.6 496.4 L780 491.6 L801.3 486.5 L822.5 481 L843.6 475.2 L864.7 468.9 L885.6 462.3 L906.3 455.4 L927 448.1 L947.5 440.4 L967.9 432.4 L988.2 424 L1008.3 415.2 L1028.2 406.1 L1048 396.7 L1067.6 386.9 L1087.1 376.8 L1106.3 366.3 L1125.4 355.6M-167 418.9 L-146.8 430.4 L-126.4 441.4 L-105.9 452.1 L-85.1 462.5 L-64.2 472.5 L-43.1 482.1 L-21.8 491.4 L-0.4 500.2 L21.2 508.7 L43 516.9 L64.8 524.6 L86.8 532 L108.9 538.9 L131.2 545.5 L153.5 551.7 L176 557.5 L198.5 562.9 L221.2 568 L243.9 572.6 L266.7 576.8 L289.6 580.6 L312.5 584.1 L335.5 587.1 L358.6 589.7 L381.7 591.9 L404.8 593.8 L427.9 595.2 L451.1 596.2 L474.3 596.8 L497.5 597 L520.7 596.8 L543.9 596.2 L567.1 595.2 L590.2 593.8 L613.3 591.9 L636.4 589.7 L659.5 587.1 L682.5 584.1 L705.4 580.6 L728.3 576.8 L751.1 572.6 L773.8 568 L796.5 562.9 L819 557.5 L841.5 551.7 L863.8 545.5 L886.1 538.9 L908.2 532 L930.2 524.6 L952 516.9 L973.8 508.7 L995.4 500.2 L1016.8 491.4 L1038.1 482.1 L1059.2 472.5 L1080.1 462.5 L1100.9 452.1 L1121.4 441.4 L1141.8 430.4 L1162 418.9M84 -15.8 L96.6 -8.7 L109.2 -1.8 L122 4.9 L135 11.3 L148 17.5 L161.1 23.5 L174.4 29.3 L187.7 34.8 L201.1 40.1 L214.6 45.1 L228.3 49.9 L241.9 54.5 L255.7 58.9 L269.5 63 L283.5 66.8 L297.4 70.4 L311.5 73.8 L325.6 76.9 L339.7 79.8 L353.9 82.4 L368.1 84.8 L382.4 87 L396.7 88.8 L411.1 90.5 L425.4 91.9 L439.8 93 L454.2 93.9 L468.6 94.5 L483.1 94.9 L497.5 95 L511.9 94.9 L526.4 94.5 L540.8 93.9 L555.2 93 L569.6 91.9 L583.9 90.5 L598.3 88.8 L612.6 87 L626.9 84.8 L641.1 82.4 L655.3 79.8 L669.4 76.9 L683.5 73.8 L697.6 70.4 L711.5 66.8 L725.5 63 L739.3 58.9 L753.1 54.5 L766.7 49.9 L780.4 45.1 L793.9 40.1 L807.3 34.8 L820.6 29.3 L833.9 23.5 L847 17.5 L860 11.3 L873 4.9 L885.8 -1.8 L898.4 -8.7 L911 -15.8M153.1 -9.9 L-105.2 531.6M235.7 24 L39.4 590.9M321.4 48.4 L189.2 633.6M410.4 63.2 L345.1 659.7M499.9 68 L501.7 668M588.5 62.8 L656.7 658.9M676.1 47.8 L810.1 632.7" fill="none" stroke="#000" stroke-opacity="0.47" stroke-width="1.0"/>
<path d="M331.2 140.8 L334.2 142.3 L335.6 144.4 L332.7 148.1 L331.2 153.9 L334.9 158.2 L335.6 162.6 L333.4 167 L331.2 171.3 L331.2 177.1 L332.7 183 L331.2 188.8 L327.6 194.6 L321.8 197.5 L316.7 197.5 L314.5 193.1 L314.5 185.9 L316 177.1 L318.2 168.4 L321.1 161.2 L325.4 155.3 L329.1 150.2 L331.2 146.6ZM318.9 153.9 L321.8 150.2 L326.9 145.9 L331.2 141.5 L332.7 143 L329.1 148.1 L324 152.4 L319.6 155.3ZM331.2 140.8 L334.9 140.1 L339.2 140.8 L343.6 139.3 L348 140.1 L350.9 143 L355.2 145.2 L361 150.2 L364.7 155.3 L365.4 161.2 L363.2 167 L359.6 170.6 L357.4 173.5 L359.6 175.7 L364 172.8 L367.6 173.5 L369.8 177.1 L371.2 184.4 L372.7 186.2 L368.3 191.7 L364 196 L360.3 200.4 L358.9 203.3 L362.5 206.6 L368.3 207.1 L375.6 204.8 L382.8 201.8 L391.6 198.9 L400 196M360.3 200.4 L365.4 197.5 L371.2 194.9 L378.5 193.1 L384.3 193.9 L387.2 195.7 L393 193.9 L400 191.4M372.7 186.2 L375.6 183 L378.5 177.1 L381.4 169.9 L384.3 164.1 L383.6 158.2 L385.8 156.8 L387.2 161.2 L388.7 165.5 L393 167 L395.9 164.1 L400 165.5M356 132.4 L358.1 134.3 L362.5 139.3 L368.3 143.7 L374.1 146.3 L379.9 147.8 L382.8 143.7 L388.7 146.6 L393 151 L395.9 156.8 L398.8 162.6 L400 165.5M364 140.8 L369.8 145.2 L377 147.3 L382.1 149.5 L379.9 151.7 L372.7 148.5 L366.1 144.4ZM320.3 119 L324 121.9 L329.1 125.5 L331.2 129.2 L336.3 131.4 L342.2 129.9 L348 131.4 L353.1 133.5 L356 132.4 L354.5 131.4 L351.6 127.7 L348 123.4 L343.6 119M353.8 119 L358.1 124.1 L358.1 129.2 L356 132.4M380 144.4 L385.8 145.2 L391.6 148.8 L396 155.3 L398.9 161.9 L401.5 165.2 L397.4 167.7 L392.4 167 L388 162.6 L385.8 157.5 L383.6 156.8 L382.9 161.2 L380 167M398.9 185.1 L401.8 181.5 L407.6 179.3 L416.3 177.9 L423.6 176.8 L430.9 176.8 L435.2 178.6 L437 181.5 L434.5 185.1 L430.1 187.6 L425.1 189.1 L419.2 187.6 L413.4 186.2 L407.6 185.4 L404.7 187.3 L400.3 188ZM435.2 178.6 L441 172.8 L446.9 167.7 L455.6 164.3 L461.4 161.2 L467.2 154.6 L473 149.1 L480 144.9M437 177.1 L444 169.9 L452.7 165.8 L459.2 162.6 L457 160 L462.8 157.5 L468.7 151.3 L473.8 147.3 L480 142.3M407.3 186.2 L406.9 191.7 L406.2 193.4M380 200.4 L388.7 196 L397.4 193.1 L404.7 192.1 L406.9 193.9 L401.8 196.8 L394.5 200 L385.8 203.6 L380 206.2M490.5 119 L495.6 119.7 L500.7 123.4 L497.8 129.2 L493.4 135 L487.6 140.1 L480.3 143.7 L474.5 148.1 L468.7 151.7 L462.2 158.2 L460 160.4M510.9 119 L506.5 121.9 L502.2 127.7 L498.5 133.5 L494.9 137.9 L489.1 142.3 L481.8 145.9 L474.5 149.5 L470.2 152.4M503.6 137.9 L505.8 133.5 L508 132.8 L507.2 135.7M448.4 165.8 L470.2 167 L484 167 L486.2 163.8 L491.2 161.9 L494.2 157.5 L496.3 151.7 L498.5 147.3M520.3 137.2 L520.8 155.3 L524 160.4 L526.1 162.6 L525.4 165.5 L529.8 167 L531.2 169.9M531.2 169.9 L528.3 171.3 L524 173.5 L519.6 175 L516 177.1 L514.5 175 L511.6 175 L509.4 178.6 L505.8 180 L502.9 183 L499.2 183.7 L497.1 187.3 L494.9 190.2 L492.7 193.9 L491.2 198.2 L490.5 201.8 L492.7 203.3 L489.8 206.2 L489.1 209.8 L491.2 212 L494.9 212.8 L497.1 209.8 L498.5 212 L497.8 215.9M531.2 124.1 L535.6 122.6 L541.4 124.1 L545.8 127 L548.7 128.4 L550.8 124.8 L552.3 123.4 L551.6 127.7 L549.4 132.1 L550.8 137.9 L553 143.7 L555.9 148.1 L560 151.7M577 132.1 L579.2 128.4 L581.3 127M577.3 131.8 L579.4 128.6 L581.3 127.3M601 119 L602.4 122.6 L606 124.5 L611.9 122.6 L620.6 121.2 L629.3 121.2 L633.7 119M631.9 128.9 L632.9 132.1 L635.1 131.4 L638 128.4M632.2 129.2 L633.2 131.8M599.5 177 L604.6 176.6M599.9 177.3 L604.3 176.8M491.6 200 L489.4 204.4 L493.8 208.7 L497.4 210.2 L500 208.7M500 216.3 L495.9 213.8 L493 215.3 L490.1 213.1 L487.2 214.5 L484.3 215.3 L482.8 218.2 L477 218.9 L469.8 220.3 L462.5 221.8 L457.4 224 L456 226.9 L454.5 231.2 L456 236.3 L453.8 242.2 L450.1 246.5 L446.5 250.1 L445.1 250.9 L442.2 248 L439.2 243.6 L440.7 239.2 L444.3 237.5M458.1 225 L464 222.1 L471.2 220.6 L478.5 221.8 L474.1 224.7 L466.9 227.6 L459.6 228.3 L456.7 226.9ZM484.3 214.5 L487.2 213.4 L490.1 214.5 L487.2 215.7ZM490.1 218.2 L493 217.2 L493.8 218.9M445.1 250.9 L443.6 255.2 L442.9 261 L440 265.4 L436.3 269.8 L433.4 272.7 L431.2 275.6M434.9 242.9 L431.2 245.1 L429.1 249.4 L431.2 253.8 L429.8 258.1 L433.4 259.6 L432.3 264 L434.9 264.7 L433.7 271.2 L431.2 275.6 L431.2 281.4 L433.4 287.2 L434.9 293 L435.6 296.9M421.8 251.6 L418.9 255.2 L421.8 258.1 L424.7 261 L427.6 265.4 L426.2 269.8 L421.8 272.7 L418.2 271.9 L423.3 275.6 L427.6 277 L431.2 275.6M434.2 242.9 L432.7 248 L434.9 252.3 L433.7 257.4 L436.3 258.1 L437.1 262.5 L439.2 264.7M422.5 290.1 L427.6 288.7 L431.2 290.8 L427.6 293 L424 294.5M430.1 280 L433 285.8 L435.2 293.1 L435.9 300.3 L433 304 L428.7 301.8 L425.8 297.4 L422.8 293.1 L423.6 288.7 L427.2 287.3 L430.8 290.9 L430.8 296 L427.2 298.2 L425 301.8 L421.4 299.6 L418.5 301.8 L421.4 304.7 L425.8 306.2 L430.1 304.7M430.1 304.7 L425.8 309.1 L421.4 311.2 L417 309.1 L413.4 311.2 L409.8 314.9 L405.4 318.1 L401 320 L396 322.2 L390.9 326.5 L385.1 331.6 L379.2 335.2 L373.4 337.4 L369.8 338.4 L371.2 336 L368.3 339.6 L365.4 344 L362.5 349.8 L359.6 357 L358.9 364.3 L359.6 371.6 L360.3 376.9M330.9 370 L333.8 375.8 L338.2 380.9 L341.1 385.3 L339.6 390.3 L337.4 394.7 L336.3 398.3 L338.2 399.8 L340.3 398.3 L338.9 401.2 L338.2 404.9 L339.6 409.2 L341.8 413.6 L344 412.4 L345 415.3 L343 418 L346.2 420.1 L347.6 425.2 L349.8 429.6 L352.7 434 L354.2 438.3 L356.3 440.5 L360 441.2 L363.6 439 L366.5 434.7 L368.7 429.6 L369.4 422.3 L368.7 413.6 L367.2 403.4 L365.3 394 L366.2 391.8 L364.3 388.9 L363.6 386 L361.4 377.3 L359.2 370M342.5 447 L347.6 445.6 L353.4 444.9 L358.5 443.4 L362.9 441.2M343.3 447.3 L349.1 445.9M240 361.2 L243.6 360.5 L246.5 362.7 L248.7 359.1 L250.9 363.4 L253.8 361.2 L253.1 357.6 L250.2 353.3 L248.7 348.9 L251.6 346.7 L254.5 348.2 L253.1 350.3 L256 351.8 L259.6 354 L257.4 356.9 L255.3 359.1 L257.4 362.7 L260.3 366.3 L263.3 365.6 L261.8 362.7 L258.9 359.8 L261.8 356.2 L264 353.3 L260.3 351.8 L254.5 348.2 L261.8 349.6 L269.1 351.8 L274.9 351.1 L278.5 348.2 L280 351.8 L283.6 353.3 L288 352.5 L292.3 354 L298.1 354.7 L302.5 356.9 L306.1 359.8 L308.3 364.2 L310.5 367.8 L314.1 369.2 L318.5 367.1 L323.6 364.9 L327.2 365.6 L330.8 368.5 L333.8 373.6 L336.7 379.4 L338.8 385.2 L340 389.6M265.4 359.1 L266.9 356.2M145 387.2 L147.9 385.8 L150.1 381.4 L150.8 372.7 L150.1 364 L152.3 362.5 L153.7 359.6 L158.1 356.7 L162.4 354.5 L166.8 352.3 L169 350.1 L171.2 351.6 L172.6 353.1 L178.4 351.6 L184.2 349.4 L188.6 347.2 L191.5 345.1 L192.2 342.2 L193.7 344.3 L197.3 343.6 L203.1 343.6 L206 341.4 L207.5 343.6 L213.3 345.1 L219.1 348 L224.2 350.9 L227.8 349.7 L230.8 350.9 L232.2 353.8 L235.1 356 L238 359.6 L240.9 361 L245 359.6M227.1 350.6 L229.3 349.1 L231.5 350.9M87 312.4 L89.9 316 L92.8 318.2 L96.4 316.7 L99.4 313.8 L103 310.9 L106.6 310.2 L110.3 312.4 L114.6 314.5 L118.2 318.9 L120.4 324.7 L122.6 331.2 L123.3 337.8 L125.5 345.1 L127.7 350.9 L128.4 355.2 L127.7 361 L129.2 368.3 L132.1 372.7 L136.4 376.3 L140.8 379.9 L145.1 382.8 L148.8 384.3 L150.2 385M147.6 390.8 L150.2 385 L149.5 378.5 L150.2 371.2 L151 365.4 L149.5 363.2 L151.7 362.5 L153.9 359.6 L156.8 358.1 L161.1 356 L165.5 354.5 L168.4 352.3 L169.8 349.4 L171.3 351.6 L174.2 353.1 L180 351.6 L187 349.4M146.6 390 L143.7 394.4 L140.8 400.2 L137.9 406 L135 411.8 L132.1 417.6 L129.9 423.4 L127.7 429.2 L127 436.5 L126.2 440.9 L129.2 444.5 L127.7 448.1 L128.4 455.4 L129.9 461.2 L130.6 465.6M126.2 439.4 L128.4 443.1 L129.2 446 L127 447.4 L125.5 443.1ZM187.3 507.1 L190.9 506.4 L193.8 510 L197.4 509.3 L199.6 506.4 L203.3 504.2 L207.6 501.3 L211.2 497.7 L214.2 493.3 L215.6 487.5 L217.1 482.4 L220 478.1 L225.1 475.9 L233.8 475.1 L242.5 475.6 L251.2 475.9 L258.5 477.3 L264.3 478.8 L267.9 481 L270.1 484.6 L268.7 489.7 L265 493.3 L260.7 496.9 L257 500.6 L254.9 504.9 L252.7 510.8 L251.9 515.8 L251.2 518M264.3 494.8 L267.2 494 L265.8 497.7 L263.6 497.7ZM190.9 506.4 L192.4 508.6 L196 507.8 L198.9 506.7M252.7 506.4 L254.9 507.8 L253.4 510.8M296.5 480.2 L301.6 478.8 L306 474.4 L311.8 470.1 L319.1 467.9 L327.8 467.2 L336.5 467.2 L345.2 468.6 L352.5 470.1 L359.8 472.2 L365.6 475.1 L371.4 478.1 L377.2 481.7 L383 483.1 L390 482.4M296.5 480.2 L300.9 481.2 L304.5 480.5 L308.9 482.4 L314.7 485.3 L319.1 487.5 L322.7 490 L325.6 488.5 L321.2 486.8 L319.1 487.5M320.5 475.9 L326.3 473.7 L333.6 473.7 L339.4 475.1 L341.6 478.1 L338 479.5 L336.5 481 L342.3 482.4 L348.1 483.4 L346 481 L351 483.1 L359.8 489 L365.6 491.9 L372.8 493.3 L378.7 496.2 L381.6 500.6 L384.5 504.9 L387.4 507.8M383.3 421.8 L386.9 423.3 L391.2 421.8 L395.6 420.3 L398.5 418.2 L401.4 419.6 L403.6 423.3 L404.3 427.6M383.7 422.2 L387.2 423.7 L391 422.2M391.2 443.6 L394.2 445.1 L397.8 450.1 L394.9 456 L391.2 453.8 L388.3 450.9 L389.8 446.5ZM410.1 441.4 L413.8 442.9 L416 446.5 L417.4 450.9 L418.1 453.1M423.2 453.1 L425.4 456.7 L427.6 461M423.5 453.5 L425.7 457.1M438.5 462.5 L439.9 464.7M438.8 462.2 L440.2 464.4M87 509 L89 513.5 L92.6 516.4 L96 517.5M356 132.4 L361 137.9 L365.4 143 L369.8 148.1 L372.7 155.3 L374.1 167 L375.6 180 L373.4 186.2M364 201.1 L372.7 200 L381.4 198.2 L390.1 196 L400 193.6M380 203.6 L388.7 200 L397.4 196.3 L405.9 193.1M407.6 185.9 L413.4 183.2 L422.2 181.8 L429.4 181.5 L436 179.8M296 119.5 L301 121.5 L306 121 L310 119.5M297 120.5 L303 122.3 L308 121M531.6 165.5 L536.3 164.3 L539.8 162 L543.3 160.8 L546.7 158.5 L550.8 156.7 L553.7 153.8 L554.9 155 L553.1 157.9 L551.4 160.8 L554.9 162 L558.4 160.8 L556 163.7 L550.2 165.5 L545.6 168.4 L540.9 172.4 L537.4 175.9 L538 180 L540.3 184.1 L544.4 187 L547.9 186.4 L550.2 183.5 L553.1 179.4 L556 175.3 L558.4 172.4 L561.9 170.7 L564.8 170.1 L572.3 167.2 L578.1 163.7 L584 160.8 L588 159.1 L588.6 157.3M551.4 142.8 L553.1 146.3 L556 148.6 L559.5 147.4 L563.6 147.4 L567.7 151.5 L571.2 153.3 L574.7 155 L578.1 153.3 L580.5 150.9 L582.8 152.7 L585.1 155 L588.6 157.3M564.2 145.1 L568.8 144 L574.7 143.4 L577.6 144 L574.7 146.3 L572.3 149.2 L570 150.3 L568.3 148.6 L565.9 147.4ZM585.1 155 L584 150.9 L584.5 146.3 L586.9 141.6 L589.8 137 L592.1 134.7 L593.8 136.4 L593.3 141.6 L592.7 145.1 L595.6 144.5 L598.5 145.7 L599.1 148.6 L596.2 151.5 L592.1 153.3 L589.2 153.8 L588.6 157.3M588 152.1 L589.8 149.8 L592.1 148.6 L591.2 151.2 L589.2 152.7ZM387.4 507.8 L389 508.5 L394.3 511.2 L399.5 512.5 L400.2 516.8M419 511.6 L427.4 512.6 L432.7 514.4 L436.5 517" fill="none" stroke="#000" stroke-width="1.75" stroke-linejoin="round" stroke-linecap="round"/>
<path d="M539.4 211.3C539.3 212.8 539 217.2 538.6 220.1C538.2 223 537.8 226 537 229C536.2 232 535.3 235.2 534.1 237.9C532.9 240.6 531.5 243 530 245C528.5 247 527.7 248.2 525 250C522.3 251.8 518.2 254.3 514 255.9C509.8 257.5 503.4 258.9 499.7 259.7C496 260.4 493.8 260.1 491.7 260.4C489.6 260.7 489.1 260 487.3 261.7C485.5 263.4 482.8 267.6 481 270.6C479.2 273.6 477.9 277 476.8 279.5C475.7 282 474.6 284.1 474.3 285.8C474 287.6 474.6 287.8 474.8 290C475 292.2 475.4 295.9 475.3 298.9C475.2 301.9 474.9 304.8 474.2 307.8C473.5 310.8 472.5 313.7 471.2 316.7C469.9 319.7 468.5 322.6 466.2 325.6C463.9 328.6 460.9 331.6 457.3 334.5C453.7 337.4 448 340.4 444.5 342.7C441 344.9 439.7 346.1 436.5 348C433.3 349.9 429.2 351.8 425.1 353.8C421 355.9 415.9 357.6 411.7 360.3C407.5 363 401.9 368.5 400 370.1C400.5 371.8 402.2 377 403 380.1C403.8 383.2 404.4 386 404.8 389C405.2 392 405.1 394.6 405.7 397.9C406.3 401.2 408 405.6 408.5 408.9C409 412.2 408.9 414.8 408.9 417.8C408.9 420.8 408.8 423.7 408.5 426.7C408.2 429.7 407.9 432.6 407.4 435.6C406.9 438.6 406.3 441.5 405.4 444.5C404.5 447.5 403.2 450.8 402.2 453.4C401.2 456 400.8 457.7 399.4 460C397.9 462.3 396.2 464.5 393.5 467C390.8 469.5 386.5 472.8 383.3 475C380.1 477.2 377.5 478.5 374.3 480C371.1 481.5 367.7 482.8 364.1 483.9C360.5 485 356.4 486.1 352.5 486.8C348.6 487.5 344.8 488.3 340.9 488.2C337 488.1 332.8 487.2 329.2 486C325.6 484.8 322.1 483.1 319.1 481C316.1 478.9 313.4 476.5 311.1 473.7C308.8 470.9 306.9 467.5 305.3 464.2C303.7 460.9 302.5 457.5 301.6 454.1C300.8 450.7 300.3 446.5 300.2 443.9C300.1 441.3 300.6 440.8 301.2 438.4C301.8 436 303.4 431.7 303.9 429.5C304.3 427.3 304.3 427.3 303.9 425.1C303.4 422.9 302.2 419.3 301.2 416.2C300.2 413.1 300.4 409.1 297.8 406.4C295.2 403.7 287.7 401.2 285.7 400.1C284.8 400.4 282.1 400.9 280.1 401.7C278.1 402.5 276.4 404 273.9 404.8C271.4 405.6 268.4 405.9 265 406.4C261.6 406.9 256.8 407.8 253.5 407.6C250.2 407.5 248.1 406.4 245 405.5C241.9 404.6 237.8 403 235 402.2C232.2 401.4 231 401.4 228.4 400.5C225.8 399.6 222.5 398.6 219.5 396.9C216.5 395.2 213.3 392 210.6 390.3C207.9 388.6 205.7 387.1 203.5 386.7C201.3 386.3 199.7 387.2 197.3 388C195 388.8 190.7 390.9 189.4 391.5C188.2 393.9 184.5 402.3 182.1 406.1C179.7 409.9 177.8 411.8 175 414.1C172.2 416.4 168.8 418.4 165.5 419.8C162.2 421.2 158.7 422.2 155.3 422.7C151.9 423.2 148.5 423.3 145.1 422.7C141.7 422.1 138.2 420.7 135 419.1C131.8 417.5 128.8 415.5 126.2 413.3C123.7 411.1 121.5 408.7 119.7 406C117.9 403.3 116.3 400 115.3 397.3C114.3 394.6 113.9 392.3 113.6 390C113.3 387.7 113.4 386 113.5 383.4C113.6 380.8 113.8 377.5 114 374.5C114.2 371.5 114.4 368.6 114.9 365.6C115.4 362.6 116.1 359.7 116.9 356.7C117.8 353.7 118.5 350.8 120 347.8C121.5 344.8 123.5 341.9 126 338.9C128.5 335.9 133 331.9 135.2 330C137.4 328.1 136.7 329.1 139.3 327.6C141.9 326.1 147.1 323 151 321.1C154.9 319.2 158.7 317.4 162.6 316C166.5 314.6 170.3 313.7 174.2 312.4C178 311.1 181.8 309.3 185.7 308.3C189.5 307.3 193.4 306.8 197.3 306.6C201.2 306.4 206.1 307 209 307.3C211.9 307.6 212.5 307.9 215 308.3C217.5 308.7 220.9 308.9 223.9 309.7C226.9 310.5 229.8 311.9 232.8 313.2C235.8 314.5 239.4 316.6 241.7 317.7C244 318.8 246 319.5 246.8 319.9C248.2 319.4 252.2 317.9 255.1 317.2C258 316.5 260.7 315.8 264 315.5C267.3 315.2 270 315.2 275 315.3C280 315.4 289.2 315.7 294.2 316.4C299.2 317.1 301.7 318.4 305 319.3C308.3 320.2 310.9 320.8 313.9 322.1C316.9 323.4 320.3 326.1 322.8 327C325.3 327.9 327.2 327.8 329 327.7C330.8 327.6 332.6 326.9 333.3 326.7C334.5 325.2 337.9 320.6 340.6 317.9C343.3 315.2 346.5 312.7 349.5 310.4C352.5 308.1 355.8 306 358.4 303.9C361 301.8 362 300.3 365 297.9C368 295.5 372.6 292.3 376.2 289.5C379.8 286.7 384 283.3 386.5 281C389 278.7 389.6 278.2 391.4 275.5C393.1 272.8 395.6 267.9 397 265C398.4 262.1 398.6 261 399.7 258.4C400.8 255.8 402.5 252.5 403.9 249.5C405.3 246.5 406.8 243.6 408.2 240.6C409.6 237.6 410.4 234.7 412.2 231.7C414 228.7 417.1 225.8 418.8 222.8C420.5 219.8 421 216.9 422.6 213.9C424.2 210.9 426.5 207.1 428.2 205C429.9 202.9 431.2 202.5 433 201.3C434.8 200.2 436.7 199.3 438.9 198.1C441.1 196.8 443.6 194.9 446 193.8C448.4 192.7 452.3 191.7 453.6 191.3C454.4 189.1 456.7 181.5 458.3 177.8C459.9 174.1 461.8 171.4 463.4 168.9C465 166.4 466.7 164.5 468 163C469.3 161.5 469.2 161.3 471 160C472.8 158.7 476.4 156.4 478.7 155C481 153.6 482.6 152.6 485 151.5C487.4 150.4 490.5 149.4 492.9 148.2C495.3 147 497.9 145.4 499.6 144.4C501.3 143.4 500.8 143.6 503 142.2C505.2 140.8 509.4 137.7 512.7 136.1C516 134.5 520.3 133.2 523 132.6C525.7 132 527.2 132.3 529 132.3C530.8 132.3 531.6 132 533.9 132.4C536.2 132.8 539.8 133.3 542.8 134.6C545.8 135.9 549.2 138.7 551.7 140.3C554.2 142 556.1 143.1 558 144.5C559.9 145.9 561.8 146.5 563.3 148.7C564.8 150.9 566.1 154.6 566.9 157.6C567.7 160.6 568 163.5 568.2 166.5C568.4 169.5 568.3 173.2 568.2 175.4C568.1 177.7 568.4 177.8 567.5 180C566.6 182.2 565.1 185.9 563.1 188.9C561.1 191.9 557.9 195.1 555.2 197.8C552.5 200.5 549.7 202.7 547.1 204.9C544.5 207.2 540.7 210.2 539.4 211.3Z" fill="none" stroke="#000" stroke-width="7.1" stroke-linejoin="miter"/>
</g>
<path d="M639.5 119 V517.2" stroke="#000" stroke-width="1.1" fill="none"/>
<path d="M87 517 H436" stroke="#000" stroke-width="1.1" fill="none"/>
<rect x="96.2" y="466.6" width="91.5" height="44.6" rx="8.3" ry="8.3" fill="#fff" stroke="#000" stroke-width="1.35"/>
<rect x="388.6" y="466.6" width="248.2" height="44.6" rx="8.3" ry="8.3" fill="#fff" stroke="#000" stroke-width="1.35"/>
<text transform="translate(142.4 498.3)" font-family="'Liberation Sans', sans-serif" font-size="25.56" text-anchor="middle" fill="#000">Mean</text>
<text transform="translate(512.5 498.3)" font-family="'Liberation Sans', sans-serif" font-size="25.56" text-anchor="middle" fill="#000">Run: 2025-12-02</text>
<text transform="translate(363.5 32.5)" font-family="'Liberation Sans', sans-serif" font-size="25.56" text-anchor="middle" fill="#000">Ensemble Mean</text>
<text transform="translate(363.5 64.7)" font-family="'Liberation Sans', sans-serif" font-size="25.56" text-anchor="middle" fill="#000">Daily Mean Minimum MSLP</text>
<text transform="translate(363.5 96.9)" font-family="'Liberation Sans', sans-serif" font-size="25.56" text-anchor="middle" fill="#000">2025-12-12 12z-12z</text>
<text transform="translate(176.3 540)" font-family="'Liberation Sans', sans-serif" font-size="25.56" text-anchor="middle" fill="#000">90°W</text>
<text transform="translate(319.3 540)" font-family="'Liberation Sans', sans-serif" font-size="25.56" text-anchor="middle" fill="#000">80°W</text>
<text transform="translate(461.3 540)" font-family="'Liberation Sans', sans-serif" font-size="25.56" text-anchor="middle" fill="#000">70°W</text>
<text transform="translate(602.2 540)" font-family="'Liberation Sans', sans-serif" font-size="25.56" text-anchor="middle" fill="#000">60°W</text>
<text transform="translate(79.5 141.2) rotate(22)" y="10.1" font-family="'Liberation Sans', sans-serif" font-size="25.56" text-anchor="end" fill="#000">40°N</text>
<text transform="translate(79.4 218.7) rotate(21.5)" y="10.1" font-family="'Liberation Sans', sans-serif" font-size="25.56" text-anchor="end" fill="#000">35°N</text>
<text transform="translate(79.4 296) rotate(20.5)" y="10.1" font-family="'Liberation Sans', sans-serif" font-size="25.56" text-anchor="end" fill="#000">30°N</text>
<text transform="translate(79.4 373) rotate(20)" y="10.1" font-family="'Liberation Sans', sans-serif" font-size="25.56" text-anchor="end" fill="#000">25°N</text>
<text transform="translate(79.4 450) rotate(19)" y="10.1" font-family="'Liberation Sans', sans-serif" font-size="25.56" text-anchor="end" fill="#000">20°N</text>
<rect x="83.6" y="569.6" width="93.57" height="30.2" fill="#4393c3"/>
<rect x="176.87" y="569.6" width="93.57" height="30.2" fill="#92c5de"/>
<rect x="270.13" y="569.6" width="93.57" height="30.2" fill="#d1e5f0"/>
<rect x="363.4" y="569.6" width="93.57" height="30.2" fill="#f7f7f7"/>
<rect x="456.67" y="569.6" width="93.57" height="30.2" fill="#fddbc7"/>
<rect x="549.93" y="569.6" width="93.57" height="30.2" fill="#d6604d"/>
<path d="M83.6 569.6 L55.4 584.7 L83.6 599.8Z" fill="#2166ac"/>
<path d="M643.2 569.6 L671 584.7 L643.2 599.8Z" fill="#b2182b"/>
<path d="M83.6 569.6 L643.2 569.6 L671 584.7 L643.2 599.8 L83.6 599.8 L55.4 584.7Z" fill="none" stroke="#000" stroke-width="1.0" stroke-linejoin="miter"/>
<path d="M83.6 599.8 V605.8" stroke="#000" stroke-width="1.1"/>
<text transform="translate(83.6 633)" font-family="'Liberation Sans', sans-serif" font-size="25.56" text-anchor="middle" fill="#000">985</text>
<path d="M176.87 599.8 V605.8" stroke="#000" stroke-width="1.1"/>
<text transform="translate(176.87 633)" font-family="'Liberation Sans', sans-serif" font-size="25.56" text-anchor="middle" fill="#000">990</text>
<path d="M270.13 599.8 V605.8" stroke="#000" stroke-width="1.1"/>
<text transform="translate(270.13 633)" font-family="'Liberation Sans', sans-serif" font-size="25.56" text-anchor="middle" fill="#000">995</text>
<path d="M363.4 599.8 V605.8" stroke="#000" stroke-width="1.1"/>
<text transform="translate(363.4 633)" font-family="'Liberation Sans', sans-serif" font-size="25.56" text-anchor="middle" fill="#000">1000</text>
<path d="M456.67 599.8 V605.8" stroke="#000" stroke-width="1.1"/>
<text transform="translate(456.67 633)" font-family="'Liberation Sans', sans-serif" font-size="25.56" text-anchor="middle" fill="#000">1005</text>
<path d="M549.93 599.8 V605.8" stroke="#000" stroke-width="1.1"/>
<text transform="translate(549.93 633)" font-family="'Liberation Sans', sans-serif" font-size="25.56" text-anchor="middle" fill="#000">1010</text>
<path d="M643.2 599.8 V605.8" stroke="#000" stroke-width="1.1"/>
<text transform="translate(643.2 633)" font-family="'Liberation Sans', sans-serif" font-size="25.56" text-anchor="middle" fill="#000">1015</text>
<text transform="translate(362.8 660.8)" font-family="'Liberation Sans', sans-serif" font-size="19.16" text-anchor="middle" fill="#000">MSLP Daily Mean (mb)</text>
</svg>
</body></html>
